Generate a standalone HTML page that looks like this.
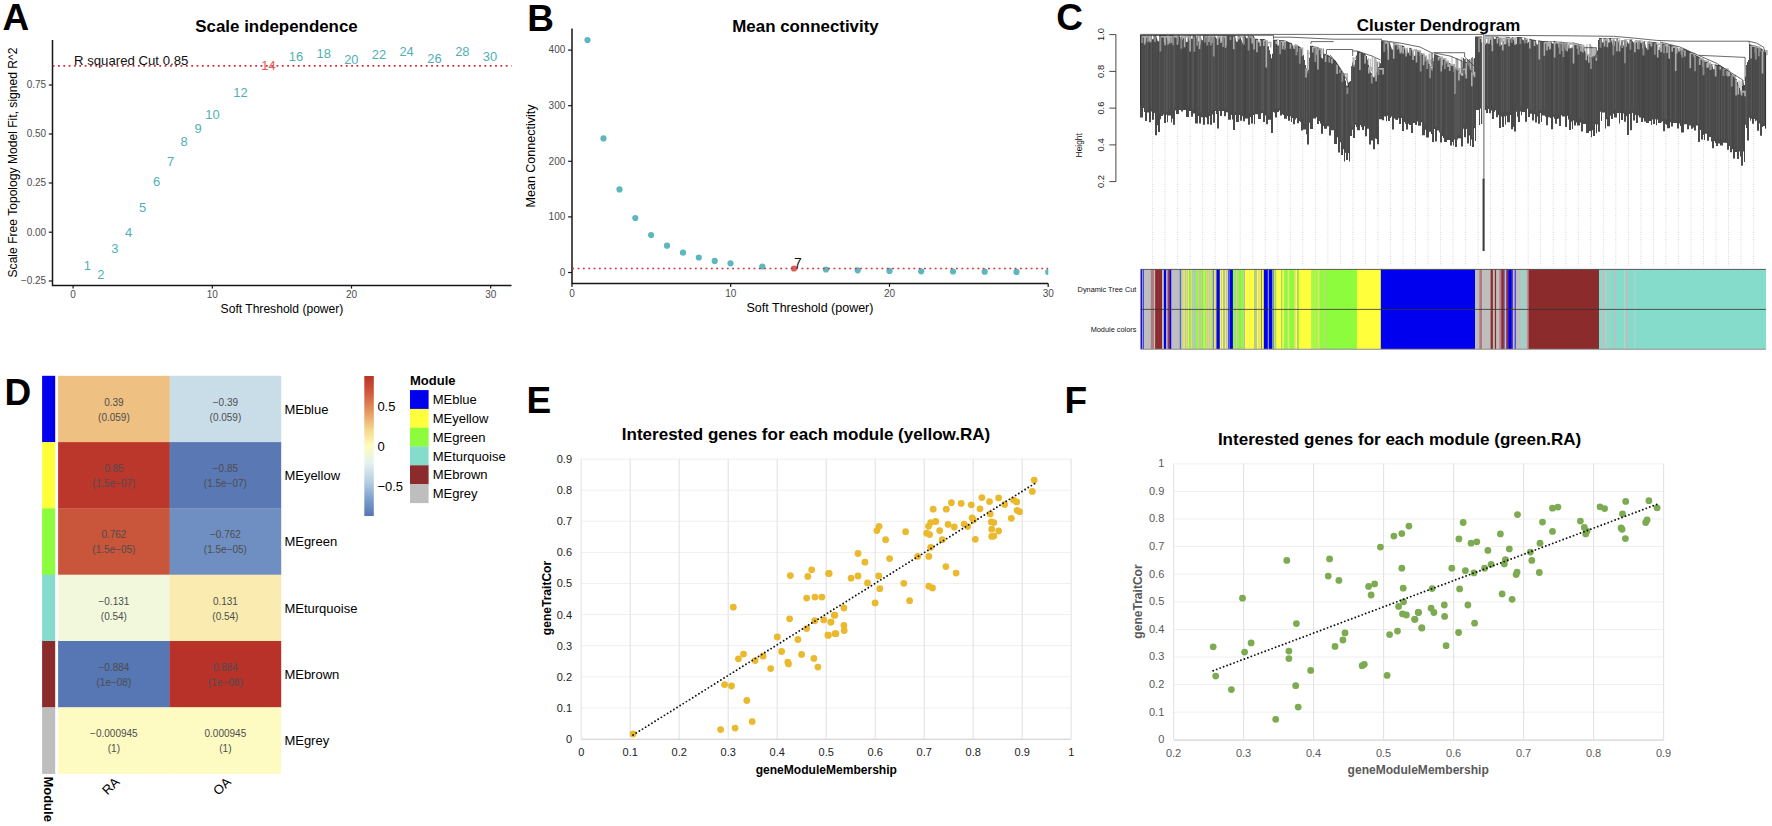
<!DOCTYPE html>
<html lang="en"><head><meta charset="utf-8"><title>WGCNA figure</title>
<style>
html,body{margin:0;padding:0;background:#fff;}
body{width:1772px;height:826px;overflow:hidden;}
svg{display:block;}
text{font-family:"Liberation Sans",sans-serif;}
.pl{font-size:37px;font-weight:bold;fill:#000;}
.ttl{font-size:16.9px;font-weight:bold;fill:#000;}
.ttl2{font-size:17.05px;font-weight:bold;fill:#000;}
.tk{font-size:10px;fill:#4d4d4d;}
.axl{font-size:12.1px;fill:#000;}
.ann{font-size:13.2px;fill:#111;}
.num{font-size:12.9px;}
.ctk{font-size:9.4px;fill:#222;}
.clab{font-size:7.35px;fill:#111;}
.chl{font-size:8.4px;fill:#111;}
.hm{font-size:10px;fill:#4d4d4d;}
.hml{font-size:13px;fill:#000;}
.hmb{font-size:13px;font-weight:bold;fill:#000;}
.etk{font-size:11px;fill:#222;}
.eax{font-size:12.05px;font-weight:bold;fill:#000;}
.ftk{font-size:11px;fill:#595959;}
.fax{font-size:12.05px;font-weight:bold;fill:#595959;}
</style></head>
<body>
<svg width="1772" height="826" viewBox="0 0 1772 826">
<rect width="1772" height="826" fill="#fff"/>
<g id="panelA">
<text x="2.6" y="29.6" class="pl">A</text>
<text x="276.5" y="31.5" class="ttl" text-anchor="middle">Scale independence</text>
<path d="M52.5 40V285.4H511.5" fill="none" stroke="#161616" stroke-width="1.5"/>
<path d="M48.8 85H52.5" stroke="#161616" stroke-width="1.2"/>
<text x="46.2" y="88.3" class="tk" text-anchor="end">0.75</text>
<path d="M48.8 134H52.5" stroke="#161616" stroke-width="1.2"/>
<text x="46.2" y="137.3" class="tk" text-anchor="end">0.50</text>
<path d="M48.8 183H52.5" stroke="#161616" stroke-width="1.2"/>
<text x="46.2" y="186.3" class="tk" text-anchor="end">0.25</text>
<path d="M48.8 232.2H52.5" stroke="#161616" stroke-width="1.2"/>
<text x="46.2" y="235.5" class="tk" text-anchor="end">0.00</text>
<path d="M48.8 281H52.5" stroke="#161616" stroke-width="1.2"/>
<text x="46.2" y="284.3" class="tk" text-anchor="end">−0.25</text>
<path d="M73.1 285.4V288.6" stroke="#161616" stroke-width="1.2"/>
<text x="73.1" y="298.4" class="tk" text-anchor="middle">0</text>
<path d="M212.3 285.4V288.6" stroke="#161616" stroke-width="1.2"/>
<text x="212.3" y="298.4" class="tk" text-anchor="middle">10</text>
<path d="M351.5 285.4V288.6" stroke="#161616" stroke-width="1.2"/>
<text x="351.5" y="298.4" class="tk" text-anchor="middle">20</text>
<path d="M490.7 285.4V288.6" stroke="#161616" stroke-width="1.2"/>
<text x="490.7" y="298.4" class="tk" text-anchor="middle">30</text>
<text x="282" y="312.5" class="axl" text-anchor="middle">Soft Threshold (power)</text>
<text transform="translate(16.5 162.5) rotate(-90)" class="axl" text-anchor="middle">Scale Free Topology Model Fit, signed R^2</text>
<path d="M52.7 65.8H511.5" stroke="#cc2f3a" stroke-width="1.7" stroke-dasharray="1.8 3.53"/>
<text x="74" y="65.3" class="ann">R squared Cut 0.85</text>
<text x="87.3" y="269.6" class="num" fill="#50afb6" text-anchor="middle">1</text>
<text x="100.9" y="278.9" class="num" fill="#50afb6" text-anchor="middle">2</text>
<text x="114.9" y="252.6" class="num" fill="#50afb6" text-anchor="middle">3</text>
<text x="128.5" y="236.6" class="num" fill="#50afb6" text-anchor="middle">4</text>
<text x="142.7" y="212.0" class="num" fill="#50afb6" text-anchor="middle">5</text>
<text x="156.5" y="185.6" class="num" fill="#50afb6" text-anchor="middle">6</text>
<text x="170.5" y="165.6" class="num" fill="#50afb6" text-anchor="middle">7</text>
<text x="184" y="145.6" class="num" fill="#50afb6" text-anchor="middle">8</text>
<text x="198" y="133.2" class="num" fill="#50afb6" text-anchor="middle">9</text>
<text x="212.5" y="119.2" class="num" fill="#50afb6" text-anchor="middle">10</text>
<text x="240.4" y="97.3" class="num" fill="#50afb6" text-anchor="middle">12</text>
<text x="268.4" y="70.1" class="num" fill="#dc5c58" text-anchor="middle">14</text>
<text x="296" y="60.6" class="num" fill="#50afb6" text-anchor="middle">16</text>
<text x="323.7" y="58.2" class="num" fill="#50afb6" text-anchor="middle">18</text>
<text x="351.3" y="63.6" class="num" fill="#50afb6" text-anchor="middle">20</text>
<text x="379" y="59.2" class="num" fill="#50afb6" text-anchor="middle">22</text>
<text x="406.6" y="56.2" class="num" fill="#50afb6" text-anchor="middle">24</text>
<text x="434.5" y="62.6" class="num" fill="#50afb6" text-anchor="middle">26</text>
<text x="462.3" y="55.6" class="num" fill="#50afb6" text-anchor="middle">28</text>
<text x="490" y="61.1" class="num" fill="#50afb6" text-anchor="middle">30</text>
</g>
<g id="panelB">
<text x="527.2" y="31.2" class="pl">B</text>
<text x="805.5" y="31.5" class="ttl" text-anchor="middle">Mean connectivity</text>
<path d="M572 28.4V283.4H1048.2" fill="none" stroke="#161616" stroke-width="1.5"/>
<path d="M568.1 272.5H572" stroke="#161616" stroke-width="1.2"/>
<text x="565.3" y="275.8" class="tk" text-anchor="end">0</text>
<path d="M568.1 216.9H572" stroke="#161616" stroke-width="1.2"/>
<text x="565.3" y="220.2" class="tk" text-anchor="end">100</text>
<path d="M568.1 161.3H572" stroke="#161616" stroke-width="1.2"/>
<text x="565.3" y="164.6" class="tk" text-anchor="end">200</text>
<path d="M568.1 105.7H572" stroke="#161616" stroke-width="1.2"/>
<text x="565.3" y="109.0" class="tk" text-anchor="end">300</text>
<path d="M568.1 50.1H572" stroke="#161616" stroke-width="1.2"/>
<text x="565.3" y="53.4" class="tk" text-anchor="end">400</text>
<path d="M572.0 283.4V286.9" stroke="#161616" stroke-width="1.2"/>
<text x="572.0" y="296.8" class="tk" text-anchor="middle">0</text>
<path d="M730.7 283.4V286.9" stroke="#161616" stroke-width="1.2"/>
<text x="730.7" y="296.8" class="tk" text-anchor="middle">10</text>
<path d="M889.5 283.4V286.9" stroke="#161616" stroke-width="1.2"/>
<text x="889.5" y="296.8" class="tk" text-anchor="middle">20</text>
<path d="M1048.2 283.4V286.9" stroke="#161616" stroke-width="1.2"/>
<text x="1048.2" y="296.8" class="tk" text-anchor="middle">30</text>
<text x="810" y="312" class="axl" style="font-size:12.5px" text-anchor="middle">Soft Threshold (power)</text>
<text transform="translate(535.3 156) rotate(-90)" class="axl" style="font-size:12.5px" text-anchor="middle">Mean Connectivity</text>
<clipPath id="cb"><rect x="572" y="20" width="476.3" height="264"/></clipPath>
<g clip-path="url(#cb)">
<circle cx="587.5" cy="40" r="3.1" fill="#5cb8bf"/>
<circle cx="603.5" cy="138.4" r="3.1" fill="#5cb8bf"/>
<circle cx="619.5" cy="189.4" r="3.1" fill="#5cb8bf"/>
<circle cx="635.3" cy="218" r="3.1" fill="#5cb8bf"/>
<circle cx="651.1" cy="235" r="3.1" fill="#5cb8bf"/>
<circle cx="667" cy="245.7" r="3.1" fill="#5cb8bf"/>
<circle cx="683" cy="252.7" r="3.1" fill="#5cb8bf"/>
<circle cx="698.8" cy="257.5" r="3.1" fill="#5cb8bf"/>
<circle cx="714.7" cy="260.9" r="3.1" fill="#5cb8bf"/>
<circle cx="730.5" cy="263.3" r="3.1" fill="#5cb8bf"/>
<circle cx="762.3" cy="266.5" r="3.1" fill="#5cb8bf"/>
<circle cx="794" cy="268.5" r="3.1" fill="#dc5c58"/>
<circle cx="826" cy="269.5" r="3.1" fill="#5cb8bf"/>
<circle cx="857.7" cy="270.3" r="3.1" fill="#5cb8bf"/>
<circle cx="889.5" cy="270.9" r="3.1" fill="#5cb8bf"/>
<circle cx="921.2" cy="271.3" r="3.1" fill="#5cb8bf"/>
<circle cx="953" cy="271.5" r="3.1" fill="#5cb8bf"/>
<circle cx="984.7" cy="271.7" r="3.1" fill="#5cb8bf"/>
<circle cx="1016.5" cy="271.9" r="3.1" fill="#5cb8bf"/>
<circle cx="1048.2" cy="272" r="3.1" fill="#5cb8bf"/>
<path d="M572.3 268.5H1048.2" stroke="#cc2f3a" stroke-width="1.7" stroke-dasharray="1.8 3.53"/>
</g>
<text x="794" y="268.3" class="ann" style="font-size:14px">7</text>
</g>
<g id="panelC">
<text x="1056.3" y="29.7" class="pl">C</text>
<path d="M1152.6 100V266M1165.1 100V266M1177.6 100V266M1190.2 100V266M1202.7 100V266M1215.2 100V266M1227.7 100V266M1240.2 100V266M1252.8 100V266M1265.3 100V266M1277.8 100V266M1290.3 100V266M1302.8 100V266M1315.4 100V266M1327.9 100V266M1340.4 100V266M1352.9 100V266M1365.4 100V266M1378.0 100V266M1390.5 100V266M1403.0 100V266M1415.5 100V266M1428.0 100V266M1440.6 100V266M1453.1 100V266M1465.6 100V266M1478.1 100V266M1490.6 100V266M1503.2 100V266M1515.7 100V266M1528.2 100V266M1540.7 100V266M1553.2 100V266M1565.8 100V266M1578.3 100V266M1590.8 100V266M1603.3 100V266M1615.8 100V266M1628.4 100V266M1640.9 100V266M1653.4 100V266M1665.9 100V266M1678.4 100V266M1691.0 100V266M1703.5 100V266M1716.0 100V266M1728.5 100V266M1741.0 100V266M1753.6 100V266" stroke="#d2d2d2" stroke-width="0.9" stroke-dasharray="1 1.4" fill="none"/>
<path d="M1109.3 34.6H1115.9V181.6H1109.3M1109.3 71.4H1115.9M1109.3 108.1H1115.9M1109.3 144.9H1115.9" fill="none" stroke="#333" stroke-width="0.9"/>
<text transform="translate(1103.6 34.6) rotate(-90)" class="ctk" text-anchor="middle">1.0</text>
<text transform="translate(1103.6 71.4) rotate(-90)" class="ctk" text-anchor="middle">0.8</text>
<text transform="translate(1103.6 108.1) rotate(-90)" class="ctk" text-anchor="middle">0.6</text>
<text transform="translate(1103.6 144.9) rotate(-90)" class="ctk" text-anchor="middle">0.4</text>
<text transform="translate(1103.6 181.6) rotate(-90)" class="ctk" text-anchor="middle">0.2</text>
<text transform="translate(1081.8 145.3) rotate(-90)" class="chl" text-anchor="middle">Height</text>
<path d="M1140.0 35.0H1141.0L1141.0 35.0H1142.0L1142.0 35.1H1143.0L1143.0 35.1H1144.0L1144.0 35.1H1145.0L1145.0 35.1H1146.0L1146.0 35.1H1147.0L1147.0 35.1H1148.0L1148.0 35.1H1149.0L1149.0 35.1H1150.0L1150.0 35.1H1151.0L1151.0 35.1H1152.0L1152.0 35.1H1153.0L1153.0 35.1H1154.0L1154.0 35.1H1155.0L1155.0 35.1H1156.0L1156.0 35.1H1157.0L1157.0 35.1H1158.0L1158.0 35.1H1159.0L1159.0 35.1H1160.0L1160.0 35.1H1161.0L1161.0 35.1H1162.0L1162.0 35.1H1163.0L1163.0 35.1H1164.0L1164.0 35.1H1165.0L1165.0 35.1H1166.0L1166.0 35.1H1167.0L1167.0 35.1H1168.0L1168.0 35.1H1169.0L1169.0 35.1H1170.0L1170.0 35.1H1171.0L1171.0 35.1H1172.0L1172.0 35.1H1173.0L1173.0 35.2H1174.0L1174.0 35.2H1175.0L1175.0 35.2H1176.0L1176.0 35.2H1177.0L1177.0 35.2H1178.0L1178.0 35.2H1179.0L1179.0 35.2H1180.0L1180.0 35.2H1181.0L1181.0 35.2H1182.0L1182.0 35.2H1183.0L1183.0 35.2H1184.0L1184.0 35.2H1185.0L1185.0 35.2H1186.0L1186.0 35.2H1187.0L1187.0 35.2H1188.0L1188.0 35.2H1189.0L1189.0 35.2H1190.0L1190.0 35.2H1191.0L1191.0 35.2H1192.0L1192.0 35.2H1193.0L1193.0 35.2H1194.0L1194.0 35.2H1195.0L1195.0 35.2H1196.0L1196.0 35.2H1197.0L1197.0 35.2H1198.0L1198.0 35.2H1199.0L1199.0 35.2H1200.0L1200.0 35.2H1201.0L1201.0 35.2H1202.0L1202.0 35.2H1203.0L1203.0 35.2H1204.0L1204.0 35.2H1205.0L1205.0 35.3H1206.0L1206.0 35.3H1207.0L1207.0 35.3H1208.0L1208.0 35.3H1209.0L1209.0 35.3H1210.0L1210.0 35.3H1211.0L1211.0 35.3H1212.0L1212.0 35.3H1213.0L1213.0 35.3H1214.0L1214.0 35.3H1215.0L1215.0 35.3H1216.0L1216.0 35.3H1217.0L1217.0 35.3H1218.0L1218.0 35.3H1219.0L1219.0 35.3H1220.0L1220.0 35.3H1221.0L1221.0 35.3H1222.0L1222.0 35.3H1223.0L1223.0 35.3H1224.0L1224.0 35.3H1225.0L1225.0 35.3H1226.0L1226.0 35.3H1227.0L1227.0 35.3H1228.0L1228.0 35.3H1229.0L1229.0 35.3H1230.0L1230.0 35.3H1231.0L1231.0 35.3H1232.0L1232.0 35.3H1233.0L1233.0 35.3H1234.0L1234.0 35.3H1235.0L1235.0 35.3H1236.0L1236.0 35.4H1237.0L1237.0 35.4H1238.0L1238.0 35.4H1239.0L1239.0 35.4H1240.0L1240.0 35.4H1241.0L1241.0 35.4H1242.0L1242.0 35.4H1243.0L1243.0 35.4H1244.0L1244.0 35.4H1245.0L1245.0 35.4H1246.0L1246.0 35.4H1247.0L1247.0 35.4H1248.0L1248.0 35.4H1249.0L1249.0 35.4H1250.0L1250.0 35.4H1251.0L1251.0 35.4H1252.0L1252.0 35.4H1253.0L1253.0 35.4H1254.0L1254.0 37.6H1255.0L1255.0 38.8H1256.0L1256.0 38.8H1257.0L1257.0 38.9H1258.0L1258.0 38.9H1259.0L1259.0 39.0H1260.0L1260.0 39.0H1261.0L1261.0 39.0H1262.0L1262.0 39.1H1263.0L1263.0 39.1H1264.0L1264.0 39.2H1265.0L1265.0 39.7H1266.0L1266.0 41.2H1267.0L1267.0 42.7H1268.0L1268.0 46.2H1269.0L1269.0 50.2H1270.0L1270.0 54.2H1271.0L1271.0 58.3H1272.0L1272.0 53.7H1273.0L1273.0 39.6H1274.0L1274.0 39.7H1275.0L1275.0 39.7H1276.0L1276.0 39.7H1277.0L1277.0 39.8H1278.0L1278.0 39.8H1279.0L1279.0 39.9H1280.0L1280.0 39.9H1281.0L1281.0 39.9H1282.0L1282.0 40.0H1283.0L1283.0 40.0H1284.0L1284.0 40.0H1285.0L1285.0 40.5H1286.0L1286.0 41.0H1287.0L1287.0 41.5H1288.0L1288.0 42.0H1289.0L1289.0 42.4H1290.0L1290.0 42.7H1291.0L1291.0 43.1H1292.0L1292.0 43.4H1293.0L1293.0 43.8H1294.0L1294.0 44.1H1295.0L1295.0 44.5H1296.0L1296.0 44.8H1297.0L1297.0 45.2H1298.0L1298.0 45.9H1299.0L1299.0 46.6H1300.0L1300.0 47.3H1301.0L1301.0 48.0H1302.0L1302.0 51.2H1303.0L1303.0 55.0H1304.0L1304.0 60.0H1305.0L1305.0 65.0H1306.0L1306.0 68.5H1307.0L1307.0 71.2H1308.0L1308.0 69.7H1309.0L1309.0 57.7H1310.0L1310.0 45.7H1311.0L1311.0 45.7H1312.0L1312.0 45.8H1313.0L1313.0 45.9H1314.0L1314.0 46.0H1315.0L1315.0 46.4H1316.0L1316.0 46.8H1317.0L1317.0 47.2H1318.0L1318.0 47.6H1319.0L1319.0 48.0H1320.0L1320.0 48.4H1321.0L1321.0 57.6H1322.0L1322.0 58.5H1323.0L1323.0 53.3H1324.0L1324.0 53.7H1325.0L1325.0 54.1H1326.0L1326.0 54.5H1327.0L1327.0 54.8H1328.0L1328.0 55.2H1329.0L1329.0 55.9H1330.0L1330.0 56.8H1331.0L1331.0 57.6H1332.0L1332.0 58.4H1333.0L1333.0 59.2H1334.0L1334.0 60.0H1335.0L1335.0 60.8H1336.0L1336.0 62.5H1337.0L1337.0 64.1H1338.0L1338.0 65.8H1339.0L1339.0 67.6H1340.0L1340.0 69.3H1341.0L1341.0 71.1H1342.0L1342.0 72.8H1343.0L1343.0 74.6H1344.0L1344.0 76.3H1345.0L1345.0 80.4H1346.0L1346.0 85.6H1347.0L1347.0 85.7H1348.0L1348.0 82.6H1349.0L1349.0 81.8H1350.0L1350.0 80.9H1351.0L1351.0 66.3H1352.0L1352.0 62.3H1353.0L1353.0 64.5H1354.0L1354.0 64.4H1355.0L1355.0 60.0H1356.0L1356.0 55.6H1357.0L1357.0 51.2H1358.0L1358.0 51.4H1359.0L1359.0 51.8H1360.0L1360.0 52.2H1361.0L1361.0 52.6H1362.0L1362.0 53.0H1363.0L1363.0 53.4H1364.0L1364.0 53.8H1365.0L1365.0 54.5H1366.0L1366.0 56.0H1367.0L1367.0 59.7H1368.0L1368.0 64.7H1369.0L1369.0 69.5H1370.0L1370.0 71.4H1371.0L1371.0 73.3H1372.0L1372.0 75.2H1373.0L1373.0 77.1H1374.0L1374.0 75.7H1375.0L1375.0 73.8H1376.0L1376.0 72.0H1377.0L1377.0 69.7H1378.0L1378.0 67.1H1379.0L1379.0 64.4H1380.0L1380.0 63.2H1381.0L1381.0 40.9H1382.0L1382.0 41.1H1383.0L1383.0 41.2H1384.0L1384.0 41.4H1385.0L1385.0 41.5H1386.0L1386.0 41.7H1387.0L1387.0 41.8H1388.0L1388.0 42.0H1389.0L1389.0 42.2H1390.0L1390.0 42.3H1391.0L1391.0 42.5H1392.0L1392.0 42.6H1393.0L1393.0 42.8H1394.0L1394.0 43.0H1395.0L1395.0 43.2H1396.0L1396.0 43.6H1397.0L1397.0 43.9H1398.0L1398.0 44.2H1399.0L1399.0 44.6H1400.0L1400.0 44.9H1401.0L1401.0 45.2H1402.0L1402.0 45.6H1403.0L1403.0 45.9H1404.0L1404.0 46.2H1405.0L1405.0 46.5H1406.0L1406.0 46.9H1407.0L1407.0 47.2H1408.0L1408.0 47.5H1409.0L1409.0 47.7H1410.0L1410.0 48.0H1411.0L1411.0 48.2H1412.0L1412.0 48.5H1413.0L1413.0 48.7H1414.0L1414.0 48.9H1415.0L1415.0 49.2H1416.0L1416.0 49.4H1417.0L1417.0 49.9H1418.0L1418.0 50.7H1419.0L1419.0 51.5H1420.0L1420.0 52.3H1421.0L1421.0 53.1H1422.0L1422.0 53.9H1423.0L1423.0 54.7H1424.0L1424.0 55.5H1425.0L1425.0 56.3H1426.0L1426.0 57.4H1427.0L1427.0 59.6H1428.0L1428.0 61.7H1429.0L1429.0 63.8H1430.0L1430.0 65.9H1431.0L1431.0 68.0H1432.0L1432.0 67.6H1433.0L1433.0 60.9H1434.0L1434.0 54.2H1435.0L1435.0 54.2H1436.0L1436.0 54.7H1437.0L1437.0 55.2H1438.0L1438.0 55.7H1439.0L1439.0 56.2H1440.0L1440.0 56.7H1441.0L1441.0 57.4H1442.0L1442.0 58.1H1443.0L1443.0 58.8H1444.0L1444.0 59.5H1445.0L1445.0 60.2H1446.0L1446.0 60.9H1447.0L1447.0 61.7H1448.0L1448.0 62.4H1449.0L1449.0 63.1H1450.0L1450.0 63.8H1451.0L1451.0 64.5H1452.0L1452.0 65.2H1453.0L1453.0 66.0H1454.0L1454.0 66.7H1455.0L1455.0 67.5H1456.0L1456.0 68.3H1457.0L1457.0 69.1H1458.0L1458.0 69.8H1459.0L1459.0 70.6H1460.0L1460.0 73.3H1461.0L1461.0 74.0H1462.0L1462.0 67.5H1463.0L1463.0 57.9H1464.0L1464.0 59.2H1465.0L1465.0 60.6H1466.0L1466.0 61.9H1467.0L1467.0 63.2H1468.0L1468.0 64.7H1469.0L1469.0 66.6H1470.0L1470.0 68.5H1471.0L1471.0 70.3H1472.0L1472.0 72.2H1473.0L1473.0 74.1H1474.0L1474.0 58.1H1475.0L1475.0 36.5H1476.0L1476.0 36.5H1477.0L1477.0 36.5H1478.0L1478.0 36.5H1479.0L1479.0 36.5H1480.0L1480.0 36.5H1481.0L1481.0 36.5H1482.0L1482.0 36.5H1483.0L1483.0 36.5H1484.0L1484.0 36.5H1485.0L1485.0 36.4H1486.0L1486.0 36.4H1487.0L1487.0 36.4H1488.0L1488.0 36.5H1489.0L1489.0 36.5H1490.0L1490.0 36.5H1491.0L1491.0 36.5H1492.0L1492.0 36.5H1493.0L1493.0 36.6H1494.0L1494.0 36.6H1495.0L1495.0 36.6H1496.0L1496.0 36.6H1497.0L1497.0 36.6H1498.0L1498.0 36.7H1499.0L1499.0 36.7H1500.0L1500.0 36.7H1501.0L1501.0 36.7H1502.0L1502.0 36.7H1503.0L1503.0 36.7H1504.0L1504.0 36.8H1505.0L1505.0 36.8H1506.0L1506.0 36.8H1507.0L1507.0 36.8H1508.0L1508.0 36.8H1509.0L1509.0 36.9H1510.0L1510.0 36.9H1511.0L1511.0 36.9H1512.0L1512.0 36.9H1513.0L1513.0 36.9H1514.0L1514.0 37.0H1515.0L1515.0 37.0H1516.0L1516.0 37.0H1517.0L1517.0 37.0H1518.0L1518.0 37.0H1519.0L1519.0 37.0H1520.0L1520.0 37.1H1521.0L1521.0 37.1H1522.0L1522.0 37.2H1523.0L1523.0 37.4H1524.0L1524.0 37.6H1525.0L1525.0 37.9H1526.0L1526.0 38.1H1527.0L1527.0 38.3H1528.0L1528.0 38.6H1529.0L1529.0 38.8H1530.0L1530.0 39.1H1531.0L1531.0 39.3H1532.0L1532.0 39.5H1533.0L1533.0 39.7H1534.0L1534.0 39.8H1535.0L1535.0 40.0H1536.0L1536.0 40.1H1537.0L1537.0 40.2H1538.0L1538.0 40.4H1539.0L1539.0 40.5H1540.0L1540.0 40.7H1541.0L1541.0 40.8H1542.0L1542.0 41.0H1543.0L1543.0 41.0H1544.0L1544.0 41.0H1545.0L1545.0 41.0H1546.0L1546.0 41.0H1547.0L1547.0 41.0H1548.0L1548.0 41.0H1549.0L1549.0 41.0H1550.0L1550.0 41.0H1551.0L1551.0 41.0H1552.0L1552.0 41.0H1553.0L1553.0 41.0H1554.0L1554.0 41.1H1555.0L1555.0 41.2H1556.0L1556.0 41.3H1557.0L1557.0 41.4H1558.0L1558.0 41.5H1559.0L1559.0 41.6H1560.0L1560.0 41.7H1561.0L1561.0 41.8H1562.0L1562.0 41.9H1563.0L1563.0 42.0H1564.0L1564.0 42.1H1565.0L1565.0 42.1H1566.0L1566.0 42.2H1567.0L1567.0 42.2H1568.0L1568.0 42.3H1569.0L1569.0 42.3H1570.0L1570.0 42.4H1571.0L1571.0 42.4H1572.0L1572.0 42.5H1573.0L1573.0 42.5H1574.0L1574.0 42.8H1575.0L1575.0 43.0H1576.0L1576.0 43.3H1577.0L1577.0 43.5H1578.0L1578.0 43.8H1579.0L1579.0 44.0H1580.0L1580.0 44.3H1581.0L1581.0 44.5H1582.0L1582.0 46.3H1583.0L1583.0 48.4H1584.0L1584.0 50.5H1585.0L1585.0 52.2H1586.0L1586.0 53.4H1587.0L1587.0 54.6H1588.0L1588.0 55.8H1589.0L1589.0 57.0H1590.0L1590.0 57.4H1591.0L1591.0 57.0H1592.0L1592.0 56.6H1593.0L1593.0 56.2H1594.0L1594.0 55.8H1595.0L1595.0 54.8H1596.0L1596.0 53.1H1597.0L1597.0 50.5H1598.0L1598.0 40.0H1599.0L1599.0 37.9H1600.0L1600.0 37.9H1601.0L1601.0 37.9H1602.0L1602.0 38.0H1603.0L1603.0 38.0H1604.0L1604.0 38.0H1605.0L1605.0 38.0H1606.0L1606.0 38.0H1607.0L1607.0 38.0H1608.0L1608.0 38.0H1609.0L1609.0 38.1H1610.0L1610.0 38.1H1611.0L1611.0 38.1H1612.0L1612.0 38.1H1613.0L1613.0 38.1H1614.0L1614.0 38.1H1615.0L1615.0 38.1H1616.0L1616.0 38.2H1617.0L1617.0 38.2H1618.0L1618.0 38.2H1619.0L1619.0 38.2H1620.0L1620.0 39.1H1621.0L1621.0 39.1H1622.0L1622.0 39.1H1623.0L1623.0 39.2H1624.0L1624.0 39.2H1625.0L1625.0 39.3H1626.0L1626.0 39.3H1627.0L1627.0 39.3H1628.0L1628.0 39.4H1629.0L1629.0 39.4H1630.0L1630.0 39.5H1631.0L1631.0 39.6H1632.0L1632.0 39.8H1633.0L1633.0 39.9H1634.0L1634.0 40.0H1635.0L1635.0 40.1H1636.0L1636.0 40.2H1637.0L1637.0 40.3H1638.0L1638.0 40.4H1639.0L1639.0 40.5H1640.0L1640.0 40.6H1641.0L1641.0 40.7H1642.0L1642.0 40.8H1643.0L1643.0 40.9H1644.0L1644.0 41.0H1645.0L1645.0 41.1H1646.0L1646.0 41.2H1647.0L1647.0 41.4H1648.0L1648.0 41.5H1649.0L1649.0 41.6H1650.0L1650.0 41.7H1651.0L1651.0 41.8H1652.0L1652.0 41.9H1653.0L1653.0 42.0H1654.0L1654.0 42.1H1655.0L1655.0 42.2H1656.0L1656.0 42.3H1657.0L1657.0 42.5H1658.0L1658.0 42.7H1659.0L1659.0 42.9H1660.0L1660.0 43.1H1661.0L1661.0 43.3H1662.0L1662.0 43.5H1663.0L1663.0 43.7H1664.0L1664.0 43.9H1665.0L1665.0 44.1H1666.0L1666.0 44.3H1667.0L1667.0 44.5H1668.0L1668.0 44.7H1669.0L1669.0 44.9H1670.0L1670.0 45.1H1671.0L1671.0 45.3H1672.0L1672.0 45.5H1673.0L1673.0 45.7H1674.0L1674.0 45.9H1675.0L1675.0 46.2H1676.0L1676.0 46.5H1677.0L1677.0 46.8H1678.0L1678.0 47.1H1679.0L1679.0 47.4H1680.0L1680.0 47.7H1681.0L1681.0 48.0H1682.0L1682.0 48.3H1683.0L1683.0 48.6H1684.0L1684.0 49.1H1685.0L1685.0 49.6H1686.0L1686.0 50.1H1687.0L1687.0 50.6H1688.0L1688.0 51.1H1689.0L1689.0 51.6H1690.0L1690.0 52.1H1691.0L1691.0 52.6H1692.0L1692.0 53.1H1693.0L1693.0 53.6H1694.0L1694.0 54.2H1695.0L1695.0 54.8H1696.0L1696.0 55.4H1697.0L1697.0 56.0H1698.0L1698.0 56.6H1699.0L1699.0 57.2H1700.0L1700.0 57.8H1701.0L1701.0 58.4H1702.0L1702.0 59.0H1703.0L1703.0 59.6H1704.0L1704.0 60.2H1705.0L1705.0 60.8H1706.0L1706.0 61.4H1707.0L1707.0 62.0H1708.0L1708.0 62.6H1709.0L1709.0 63.2H1710.0L1710.0 63.8H1711.0L1711.0 64.2H1712.0L1712.0 64.3H1713.0L1713.0 64.4H1714.0L1714.0 64.5H1715.0L1715.0 64.6H1716.0L1716.0 64.8H1717.0L1717.0 64.9H1718.0L1718.0 65.0H1719.0L1719.0 65.1H1720.0L1720.0 65.5H1721.0L1721.0 66.2H1722.0L1722.0 66.9H1723.0L1723.0 67.5H1724.0L1724.0 68.2H1725.0L1725.0 68.9H1726.0L1726.0 69.6H1727.0L1727.0 70.3H1728.0L1728.0 70.9H1729.0L1729.0 71.7H1730.0L1730.0 72.7H1731.0L1731.0 73.7H1732.0L1732.0 74.7H1733.0L1733.0 75.7H1734.0L1734.0 76.7H1735.0L1735.0 77.7H1736.0L1736.0 78.9H1737.0L1737.0 81.9H1738.0L1738.0 84.8H1739.0L1739.0 87.7H1740.0L1740.0 90.6H1741.0L1741.0 90.7H1742.0L1742.0 86.0H1743.0L1743.0 82.7H1744.0L1744.0 85.0H1745.0L1745.0 76.7H1746.0L1746.0 64.9H1747.0L1747.0 61.9H1748.0L1748.0 60.1H1749.0L1749.0 44.1H1750.0L1750.0 44.4H1751.0L1751.0 44.7H1752.0L1752.0 44.9H1753.0L1753.0 45.2H1754.0L1754.0 45.4H1755.0L1755.0 45.7H1756.0L1756.0 46.0H1757.0L1757.0 46.5H1758.0L1758.0 47.0H1759.0L1759.0 47.5H1760.0L1760.0 48.0H1761.0L1761.0 48.5H1762.0L1762.0 49.3H1763.0L1763.0 50.3H1764.0L1764.0 51.3H1765.0L1765.0 52.3H1766.0L1766.0 128.8H1765.0L1765.0 126.0H1764.0L1764.0 126.0H1763.0L1763.0 127.1H1762.0L1762.0 135.8H1761.0L1761.0 135.8H1760.0L1760.0 123.4H1759.0L1759.0 130.7H1758.0L1758.0 130.7H1757.0L1757.0 120.4H1756.0L1756.0 121.3H1755.0L1755.0 119.1H1754.0L1754.0 123.7H1753.0L1753.0 123.7H1752.0L1752.0 118.7H1751.0L1751.0 120.7H1750.0L1750.0 117.8H1749.0L1749.0 140.5H1748.0L1748.0 140.5H1747.0L1747.0 128.0H1746.0L1746.0 124.7H1745.0L1745.0 161.9H1744.0L1744.0 151.5H1743.0L1743.0 165.7H1742.0L1742.0 165.7H1741.0L1741.0 156.4H1740.0L1740.0 151.5H1739.0L1739.0 159.0H1738.0L1738.0 159.0H1737.0L1737.0 152.1H1736.0L1736.0 152.1H1735.0L1735.0 158.6H1734.0L1734.0 158.6H1733.0L1733.0 149.3H1732.0L1732.0 152.3H1731.0L1731.0 152.3H1730.0L1730.0 145.9H1729.0L1729.0 149.7H1728.0L1728.0 149.7H1727.0L1727.0 143.0H1726.0L1726.0 142.7H1725.0L1725.0 142.7H1724.0L1724.0 142.7H1723.0L1723.0 145.4H1722.0L1722.0 145.4H1721.0L1721.0 145.4H1720.0L1720.0 143.6H1719.0L1719.0 143.6H1718.0L1718.0 146.0H1717.0L1717.0 146.0H1716.0L1716.0 142.9H1715.0L1715.0 141.0H1714.0L1714.0 148.2H1713.0L1713.0 148.2H1712.0L1712.0 141.4H1711.0L1711.0 137.0H1710.0L1710.0 137.0H1709.0L1709.0 140.8H1708.0L1708.0 140.8H1707.0L1707.0 133.7H1706.0L1706.0 133.7H1705.0L1705.0 140.0H1704.0L1704.0 134.7H1703.0L1703.0 139.4H1702.0L1702.0 139.4H1701.0L1701.0 130.0H1700.0L1700.0 142.0H1699.0L1699.0 142.0H1698.0L1698.0 125.6H1697.0L1697.0 125.6H1696.0L1696.0 130.4H1695.0L1695.0 130.4H1694.0L1694.0 127.5H1693.0L1693.0 128.8H1692.0L1692.0 128.8H1691.0L1691.0 125.5H1690.0L1690.0 125.5H1689.0L1689.0 129.2H1688.0L1688.0 129.2H1687.0L1687.0 124.2H1686.0L1686.0 124.2H1685.0L1685.0 124.2H1684.0L1684.0 132.5H1683.0L1683.0 132.5H1682.0L1682.0 132.5H1681.0L1681.0 126.1H1680.0L1680.0 123.5H1679.0L1679.0 128.5H1678.0L1678.0 128.5H1677.0L1677.0 123.0H1676.0L1676.0 123.0H1675.0L1675.0 123.0H1674.0L1674.0 123.1H1673.0L1673.0 126.5H1672.0L1672.0 126.5H1671.0L1671.0 122.3H1670.0L1670.0 128.2H1669.0L1669.0 128.2H1668.0L1668.0 128.2H1667.0L1667.0 124.7H1666.0L1666.0 124.0H1665.0L1665.0 131.3H1664.0L1664.0 131.3H1663.0L1663.0 121.3H1662.0L1662.0 122.3H1661.0L1661.0 123.0H1660.0L1660.0 123.0H1659.0L1659.0 123.0H1658.0L1658.0 119.5H1657.0L1657.0 125.2H1656.0L1656.0 119.2H1655.0L1655.0 123.9H1654.0L1654.0 123.9H1653.0L1653.0 119.4H1652.0L1652.0 124.9H1651.0L1651.0 121.1H1650.0L1650.0 121.1H1649.0L1649.0 122.9H1648.0L1648.0 122.9H1647.0L1647.0 122.9H1646.0L1646.0 121.6H1645.0L1645.0 121.6H1644.0L1644.0 118.3H1643.0L1643.0 121.9H1642.0L1642.0 121.9H1641.0L1641.0 117.4H1640.0L1640.0 117.4H1639.0L1639.0 115.6H1638.0L1638.0 123.1H1637.0L1637.0 123.1H1636.0L1636.0 115.1H1635.0L1635.0 120.6H1634.0L1634.0 120.6H1633.0L1633.0 112.9H1632.0L1632.0 130.2H1631.0L1631.0 130.2H1630.0L1630.0 114.1H1629.0L1629.0 135.1H1628.0L1628.0 135.1H1627.0L1627.0 116.2H1626.0L1626.0 121.7H1625.0L1625.0 121.7H1624.0L1624.0 113.5H1623.0L1623.0 120.0H1622.0L1622.0 120.0H1621.0L1621.0 112.9H1620.0L1620.0 123.4H1619.0L1619.0 113.1H1618.0L1618.0 113.1H1617.0L1617.0 117.5H1616.0L1616.0 117.5H1615.0L1615.0 117.5H1614.0L1614.0 113.8H1613.0L1613.0 119.1H1612.0L1612.0 119.1H1611.0L1611.0 115.7H1610.0L1610.0 126.3H1609.0L1609.0 126.3H1608.0L1608.0 126.3H1607.0L1607.0 119.3H1606.0L1606.0 128.4H1605.0L1605.0 112.4H1604.0L1604.0 112.4H1603.0L1603.0 112.4H1602.0L1602.0 121.1H1601.0L1601.0 111.7H1600.0L1600.0 131.8H1599.0L1599.0 131.8H1598.0L1598.0 124.6H1597.0L1597.0 133.2H1596.0L1596.0 124.3H1595.0L1595.0 136.1H1594.0L1594.0 136.1H1593.0L1593.0 130.3H1592.0L1592.0 137.2H1591.0L1591.0 130.9H1590.0L1590.0 130.9H1589.0L1589.0 133.1H1588.0L1588.0 133.1H1587.0L1587.0 133.1H1586.0L1586.0 124.1H1585.0L1585.0 124.1H1584.0L1584.0 124.1H1583.0L1583.0 131.4H1582.0L1582.0 131.4H1581.0L1581.0 122.6H1580.0L1580.0 125.6H1579.0L1579.0 125.6H1578.0L1578.0 125.6H1577.0L1577.0 122.4H1576.0L1576.0 125.6H1575.0L1575.0 125.6H1574.0L1574.0 120.6H1573.0L1573.0 129.0H1572.0L1572.0 121.8H1571.0L1571.0 130.0H1570.0L1570.0 130.0H1569.0L1569.0 119.4H1568.0L1568.0 115.8H1567.0L1567.0 127.0H1566.0L1566.0 127.0H1565.0L1565.0 116.4H1564.0L1564.0 116.4H1563.0L1563.0 116.4H1562.0L1562.0 115.3H1561.0L1561.0 125.9H1560.0L1560.0 125.9H1559.0L1559.0 118.6H1558.0L1558.0 119.1H1557.0L1557.0 123.7H1556.0L1556.0 123.7H1555.0L1555.0 118.7H1554.0L1554.0 116.7H1553.0L1553.0 129.2H1552.0L1552.0 129.2H1551.0L1551.0 118.1H1550.0L1550.0 117.3H1549.0L1549.0 117.3H1548.0L1548.0 125.2H1547.0L1547.0 125.2H1546.0L1546.0 116.7H1545.0L1545.0 115.4H1544.0L1544.0 115.4H1543.0L1543.0 115.4H1542.0L1542.0 121.9H1541.0L1541.0 113.1H1540.0L1540.0 123.7H1539.0L1539.0 123.7H1538.0L1538.0 116.5H1537.0L1537.0 122.6H1536.0L1536.0 122.6H1535.0L1535.0 114.2H1534.0L1534.0 120.4H1533.0L1533.0 120.4H1532.0L1532.0 113.7H1531.0L1531.0 113.7H1530.0L1530.0 116.9H1529.0L1529.0 116.9H1528.0L1528.0 108.8H1527.0L1527.0 121.7H1526.0L1526.0 121.7H1525.0L1525.0 112.0H1524.0L1524.0 112.0H1523.0L1523.0 112.0H1522.0L1522.0 115.3H1521.0L1521.0 111.5H1520.0L1520.0 121.9H1519.0L1519.0 121.9H1518.0L1518.0 116.8H1517.0L1517.0 111.8H1516.0L1516.0 131.6H1515.0L1515.0 131.6H1514.0L1514.0 126.8H1513.0L1513.0 129.2H1512.0L1512.0 129.2H1511.0L1511.0 115.0H1510.0L1510.0 122.3H1509.0L1509.0 122.3H1508.0L1508.0 122.3H1507.0L1507.0 115.7H1506.0L1506.0 124.8H1505.0L1505.0 116.4H1504.0L1504.0 126.9H1503.0L1503.0 126.9H1502.0L1502.0 116.5H1501.0L1501.0 127.9H1500.0L1500.0 127.9H1499.0L1499.0 114.9H1498.0L1498.0 117.3H1497.0L1497.0 117.3H1496.0L1496.0 110.3H1495.0L1495.0 111.8H1494.0L1494.0 119.1H1493.0L1493.0 119.1H1492.0L1492.0 110.5H1491.0L1491.0 113.2H1490.0L1490.0 113.2H1489.0L1489.0 109.1H1488.0L1488.0 113.0H1487.0L1487.0 113.0H1486.0L1486.0 109.9H1485.0L1485.0 109.9H1484.0L1484.0 112.5H1483.0L1483.0 124.0H1482.0L1482.0 124.0H1481.0L1481.0 108.4H1480.0L1480.0 125.1H1479.0L1479.0 110.1H1478.0L1478.0 110.1H1477.0L1477.0 110.1H1476.0L1476.0 141.0H1475.0L1475.0 128.2H1474.0L1474.0 147.1H1473.0L1473.0 147.1H1472.0L1472.0 139.4H1471.0L1471.0 146.1H1470.0L1470.0 135.4H1469.0L1469.0 143.6H1468.0L1468.0 143.6H1467.0L1467.0 129.0H1466.0L1466.0 137.2H1465.0L1465.0 137.2H1464.0L1464.0 128.7H1463.0L1463.0 146.5H1462.0L1462.0 146.5H1461.0L1461.0 138.4H1460.0L1460.0 138.2H1459.0L1459.0 138.2H1458.0L1458.0 139.6H1457.0L1457.0 146.9H1456.0L1456.0 146.9H1455.0L1455.0 139.5H1454.0L1454.0 145.4H1453.0L1453.0 142.1H1452.0L1452.0 145.4H1451.0L1451.0 145.4H1450.0L1450.0 140.0H1449.0L1449.0 140.0H1448.0L1448.0 140.0H1447.0L1447.0 142.0H1446.0L1446.0 142.0H1445.0L1445.0 142.0H1444.0L1444.0 137.9H1443.0L1443.0 135.9H1442.0L1442.0 142.4H1441.0L1441.0 142.4H1440.0L1440.0 132.4H1439.0L1439.0 130.4H1438.0L1438.0 130.4H1437.0L1437.0 141.6H1436.0L1436.0 141.6H1435.0L1435.0 129.1H1434.0L1434.0 142.0H1433.0L1433.0 142.0H1432.0L1432.0 133.9H1431.0L1431.0 131.8H1430.0L1430.0 131.8H1429.0L1429.0 137.4H1428.0L1428.0 137.4H1427.0L1427.0 137.4H1426.0L1426.0 129.7H1425.0L1425.0 135.2H1424.0L1424.0 135.2H1423.0L1423.0 135.2H1422.0L1422.0 122.2H1421.0L1421.0 125.8H1420.0L1420.0 125.8H1419.0L1419.0 125.8H1418.0L1418.0 121.4H1417.0L1417.0 125.0H1416.0L1416.0 125.0H1415.0L1415.0 123.0H1414.0L1414.0 123.0H1413.0L1413.0 132.9H1412.0L1412.0 132.9H1411.0L1411.0 125.1H1410.0L1410.0 125.1H1409.0L1409.0 123.7H1408.0L1408.0 129.4H1407.0L1407.0 129.4H1406.0L1406.0 123.7H1405.0L1405.0 121.9H1404.0L1404.0 131.0H1403.0L1403.0 131.0H1402.0L1402.0 118.1H1401.0L1401.0 124.1H1400.0L1400.0 124.1H1399.0L1399.0 118.3H1398.0L1398.0 120.1H1397.0L1397.0 120.1H1396.0L1396.0 119.4H1395.0L1395.0 118.4H1394.0L1394.0 129.4H1393.0L1393.0 129.4H1392.0L1392.0 116.6H1391.0L1391.0 117.9H1390.0L1390.0 121.0H1389.0L1389.0 121.0H1388.0L1388.0 115.8H1387.0L1387.0 121.3H1386.0L1386.0 116.5H1385.0L1385.0 116.5H1384.0L1384.0 120.2H1383.0L1383.0 120.2H1382.0L1382.0 119.3H1381.0L1381.0 119.3H1380.0L1380.0 119.3H1379.0L1379.0 144.3H1378.0L1378.0 144.3H1377.0L1377.0 138.9H1376.0L1376.0 138.6H1375.0L1375.0 149.3H1374.0L1374.0 149.3H1373.0L1373.0 140.6H1372.0L1372.0 140.6H1371.0L1371.0 144.4H1370.0L1370.0 144.4H1369.0L1369.0 128.7H1368.0L1368.0 128.7H1367.0L1367.0 136.2H1366.0L1366.0 136.2H1365.0L1365.0 126.2H1364.0L1364.0 130.1H1363.0L1363.0 130.1H1362.0L1362.0 126.9H1361.0L1361.0 125.1H1360.0L1360.0 130.3H1359.0L1359.0 130.3H1358.0L1358.0 130.3H1357.0L1357.0 127.0H1356.0L1356.0 124.8H1355.0L1355.0 138.1H1354.0L1354.0 138.1H1353.0L1353.0 129.8H1352.0L1352.0 136.0H1351.0L1351.0 136.0H1350.0L1350.0 161.5H1349.0L1349.0 153.1H1348.0L1348.0 160.1H1347.0L1347.0 160.1H1346.0L1346.0 152.7H1345.0L1345.0 161.4H1344.0L1344.0 149.3H1343.0L1343.0 155.0H1342.0L1342.0 155.0H1341.0L1341.0 142.2H1340.0L1340.0 152.5H1339.0L1339.0 152.5H1338.0L1338.0 137.3H1337.0L1337.0 144.0H1336.0L1336.0 144.0H1335.0L1335.0 144.0H1334.0L1334.0 130.2H1333.0L1333.0 130.2H1332.0L1332.0 130.2H1331.0L1331.0 135.5H1330.0L1330.0 135.5H1329.0L1329.0 126.3H1328.0L1328.0 126.3H1327.0L1327.0 128.8H1326.0L1326.0 128.8H1325.0L1325.0 128.8H1324.0L1324.0 126.0H1323.0L1323.0 133.7H1322.0L1322.0 133.7H1321.0L1321.0 123.6H1320.0L1320.0 121.1H1319.0L1319.0 123.9H1318.0L1318.0 123.9H1317.0L1317.0 117.2H1316.0L1316.0 118.6H1315.0L1315.0 118.6H1314.0L1314.0 118.6H1313.0L1313.0 129.0H1312.0L1312.0 129.0H1311.0L1311.0 129.0H1310.0L1310.0 122.8H1309.0L1309.0 144.5H1308.0L1308.0 144.5H1307.0L1307.0 134.3H1306.0L1306.0 129.4H1305.0L1305.0 129.4H1304.0L1304.0 129.4H1303.0L1303.0 130.4H1302.0L1302.0 130.4H1301.0L1301.0 122.1H1300.0L1300.0 120.9H1299.0L1299.0 123.3H1298.0L1298.0 123.3H1297.0L1297.0 118.0H1296.0L1296.0 119.5H1295.0L1295.0 124.2H1294.0L1294.0 124.2H1293.0L1293.0 117.9H1292.0L1292.0 122.1H1291.0L1291.0 116.3H1290.0L1290.0 120.8H1289.0L1289.0 120.8H1288.0L1288.0 115.9H1287.0L1287.0 118.8H1286.0L1286.0 118.8H1285.0L1285.0 118.8H1284.0L1284.0 115.0H1283.0L1283.0 114.2H1282.0L1282.0 115.6H1281.0L1281.0 115.6H1280.0L1280.0 110.4H1279.0L1279.0 112.0H1278.0L1278.0 112.0H1277.0L1277.0 117.4H1276.0L1276.0 117.4H1275.0L1275.0 112.7H1274.0L1274.0 111.9H1273.0L1273.0 132.9H1272.0L1272.0 132.9H1271.0L1271.0 119.7H1270.0L1270.0 119.7H1269.0L1269.0 119.7H1268.0L1268.0 124.3H1267.0L1267.0 124.3H1266.0L1266.0 115.5H1265.0L1265.0 122.1H1264.0L1264.0 122.1H1263.0L1263.0 112.9H1262.0L1262.0 113.3H1261.0L1261.0 118.9H1260.0L1260.0 118.9H1259.0L1259.0 118.9H1258.0L1258.0 114.3H1257.0L1257.0 114.3H1256.0L1256.0 114.3H1255.0L1255.0 124.3H1254.0L1254.0 115.0H1253.0L1253.0 123.6H1252.0L1252.0 123.6H1251.0L1251.0 116.9H1250.0L1250.0 124.7H1249.0L1249.0 124.7H1248.0L1248.0 118.6H1247.0L1247.0 118.6H1246.0L1246.0 118.6H1245.0L1245.0 121.2H1244.0L1244.0 121.2H1243.0L1243.0 116.3H1242.0L1242.0 120.7H1241.0L1241.0 120.7H1240.0L1240.0 115.1H1239.0L1239.0 121.9H1238.0L1238.0 121.9H1237.0L1237.0 121.9H1236.0L1236.0 115.1H1235.0L1235.0 129.9H1234.0L1234.0 129.9H1233.0L1233.0 119.5H1232.0L1232.0 115.1H1231.0L1231.0 119.8H1230.0L1230.0 119.8H1229.0L1229.0 119.8H1228.0L1228.0 112.3H1227.0L1227.0 112.3H1226.0L1226.0 116.2H1225.0L1225.0 116.2H1224.0L1224.0 110.9H1223.0L1223.0 110.9H1222.0L1222.0 115.9H1221.0L1221.0 115.9H1220.0L1220.0 111.0H1219.0L1219.0 128.5H1218.0L1218.0 128.5H1217.0L1217.0 113.9H1216.0L1216.0 111.0H1215.0L1215.0 122.8H1214.0L1214.0 122.8H1213.0L1213.0 114.5H1212.0L1212.0 124.8H1211.0L1211.0 124.8H1210.0L1210.0 116.0H1209.0L1209.0 124.2H1208.0L1208.0 124.2H1207.0L1207.0 117.8H1206.0L1206.0 116.9H1205.0L1205.0 124.7H1204.0L1204.0 124.7H1203.0L1203.0 117.2H1202.0L1202.0 117.2H1201.0L1201.0 123.6H1200.0L1200.0 123.6H1199.0L1199.0 116.0H1198.0L1198.0 123.6H1197.0L1197.0 123.6H1196.0L1196.0 123.6H1195.0L1195.0 113.5H1194.0L1194.0 113.5H1193.0L1193.0 116.7H1192.0L1192.0 116.7H1191.0L1191.0 111.0H1190.0L1190.0 111.0H1189.0L1189.0 117.0H1188.0L1188.0 117.0H1187.0L1187.0 117.0H1186.0L1186.0 110.0H1185.0L1185.0 110.0H1184.0L1184.0 110.0H1183.0L1183.0 111.6H1182.0L1182.0 111.6H1181.0L1181.0 110.0H1180.0L1180.0 110.0H1179.0L1179.0 113.9H1178.0L1178.0 113.9H1177.0L1177.0 113.9H1176.0L1176.0 110.6H1175.0L1175.0 124.7H1174.0L1174.0 124.7H1173.0L1173.0 118.7H1172.0L1172.0 122.5H1171.0L1171.0 115.4H1170.0L1170.0 115.4H1169.0L1169.0 115.4H1168.0L1168.0 122.3H1167.0L1167.0 114.8H1166.0L1166.0 123.1H1165.0L1165.0 123.1H1164.0L1164.0 114.4H1163.0L1163.0 116.0H1162.0L1162.0 116.0H1161.0L1161.0 119.2H1160.0L1160.0 132.1H1159.0L1159.0 132.1H1158.0L1158.0 125.2H1157.0L1157.0 135.2H1156.0L1156.0 135.2H1155.0L1155.0 112.9H1154.0L1154.0 119.8H1153.0L1153.0 119.8H1152.0L1152.0 111.4H1151.0L1151.0 122.3H1150.0L1150.0 122.3H1149.0L1149.0 112.5H1148.0L1148.0 112.5H1147.0L1147.0 120.9H1146.0L1146.0 120.9H1145.0L1145.0 111.9H1144.0L1144.0 108.0H1143.0L1143.0 117.5H1142.0L1142.0 117.5H1141.0L1141.0 117.5H1140.0Z" fill="#4b4b4b"/>
<path d="M1145.5 36.1V111.4M1147.5 36.1V109.6M1151.5 36.1V108.5M1159.5 36.1V113.3M1164.5 36.1V113.6M1166.5 36.1V112.2M1167.5 36.1V112.2M1169.5 36.1V109.1M1173.5 36.2V110.9M1174.5 36.2V106.5M1188.5 36.2V106.6M1192.5 36.2V108.3M1193.5 36.2V109.8M1198.5 36.2V112.6M1200.5 36.2V113.1M1201.5 36.2V112.6M1208.5 36.3V111.9M1211.5 36.3V109.5M1212.5 36.3V110.3M1214.5 36.3V109.5M1218.5 36.3V113.4M1222.5 36.3V108.1M1224.5 36.3V108.1M1226.5 36.3V109.1M1234.5 36.3V114.7M1235.5 36.3V112.2M1241.5 36.4V112.2M1249.5 36.4V113.8M1253.5 36.4V112.0M1261.5 40.0V110.7M1262.5 40.1V110.7M1263.5 40.1V112.6M1267.5 43.7V114.7M1268.5 47.2V113.7M1269.5 51.2V116.9M1275.5 40.7V108.4M1277.5 40.8V108.4M1278.5 40.8V108.4M1279.5 40.9V108.4M1286.5 42.0V112.2M1291.5 44.1V114.8M1299.5 47.6V117.8M1302.5 52.2V118.4M1304.5 61.0V124.4M1306.5 69.5V131.4M1309.5 58.7V118.3M1325.5 55.1V123.2M1326.5 55.5V123.2M1335.5 61.8V128.9M1341.5 72.1V140.3M1342.5 73.8V142.3M1346.5 86.6V150.6M1351.5 67.3V126.4M1352.5 63.3V127.5M1355.5 61.0V122.5M1356.5 56.6V122.5M1378.5 68.1V126.4M1387.5 42.8V111.7M1401.5 46.2V114.2M1403.5 46.9V115.8M1421.5 54.1V119.0M1424.5 56.5V123.0M1425.5 57.3V124.4M1432.5 68.6V132.5M1435.5 55.2V127.1M1436.5 55.7V127.1M1440.5 57.7V132.9M1441.5 58.4V132.4M1446.5 61.9V135.6M1454.5 67.7V137.3M1455.5 68.5V138.3M1456.5 69.3V139.6M1457.5 70.1V135.8M1458.5 70.8V134.9M1459.5 71.6V134.0M1461.5 75.0V137.0M1464.5 60.2V125.7M1472.5 73.2V137.6M1481.5 37.5V111.6M1483.5 37.5V109.2M1487.5 37.4V105.8M1492.5 37.5V106.0M1501.5 37.7V113.1M1503.5 37.7V111.9M1506.5 37.8V112.0M1507.5 37.8V112.0M1509.5 37.9V112.0M1520.5 38.1V106.6M1521.5 38.1V106.6M1529.5 39.8V110.4M1530.5 40.1V110.4M1531.5 40.3V110.4M1533.5 40.7V110.4M1536.5 41.1V112.2M1537.5 41.2V114.2M1539.5 41.5V110.3M1540.5 41.7V110.3M1541.5 41.8V110.3M1544.5 42.0V110.3M1553.5 42.0V114.0M1554.5 42.1V114.0M1558.5 42.5V114.4M1562.5 42.9V112.2M1570.5 43.4V114.9M1579.5 45.0V117.8M1581.5 45.5V117.8M1583.5 49.4V119.9M1593.5 57.2V126.6M1595.5 55.8V121.0M1603.5 39.0V109.5M1607.5 39.0V116.8M1613.5 39.1V109.2M1615.5 39.1V109.2M1625.5 40.3V110.2M1629.5 40.4V110.2M1633.5 40.9V110.2M1662.5 44.5V118.5M1664.5 44.9V118.2M1665.5 45.1V119.7M1666.5 45.3V119.7M1670.5 46.1V119.6M1675.5 47.2V119.6M1681.5 49.0V121.1M1684.5 50.1V121.1M1697.5 57.0V122.3M1698.5 57.6V123.3M1706.5 62.4V130.8M1709.5 64.2V131.3M1716.5 65.8V139.4M1719.5 66.1V139.4M1721.5 67.2V139.4M1724.5 69.2V139.4M1728.5 71.9V141.8M1730.5 73.7V145.0M1737.5 82.9V149.5M1745.5 77.7V121.8M1746.5 65.9V123.9M1751.5 45.7V115.2M1759.5 48.5V121.2M1761.5 49.5V123.3M1763.5 51.3V123.3" stroke="#555" stroke-width="1" fill="none"/>
<path d="M1149.5 36.1V121.8M1152.5 36.1V119.3M1158.5 36.1V131.6M1177.5 36.2V113.4M1182.5 36.2V111.1M1183.5 36.2V109.5M1184.5 36.2V109.5M1185.5 36.2V109.5M1186.5 36.2V116.5M1189.5 36.2V110.5M1190.5 36.2V110.5M1194.5 36.2V113.0M1195.5 36.2V123.1M1203.5 36.2V124.2M1205.5 36.3V116.4M1207.5 36.3V123.7M1221.5 36.3V115.4M1223.5 36.3V110.4M1232.5 36.3V119.0M1244.5 36.4V120.7M1245.5 36.4V118.1M1257.5 39.9V113.8M1265.5 40.7V115.0M1271.5 59.3V132.4M1276.5 40.7V116.9M1280.5 40.9V115.1M1284.5 41.0V118.3M1288.5 43.0V120.3M1305.5 66.0V128.9M1314.5 47.0V118.1M1315.5 47.4V118.1M1320.5 49.4V123.1M1321.5 58.6V133.2M1322.5 59.5V133.2M1323.5 54.3V125.5M1336.5 63.5V143.5M1337.5 65.1V136.8M1344.5 77.3V160.9M1358.5 52.4V129.8M1363.5 54.4V129.6M1366.5 57.0V135.7M1367.5 60.7V128.2M1371.5 74.3V140.1M1376.5 73.0V138.4M1377.5 70.7V143.8M1381.5 41.9V118.8M1382.5 42.1V119.7M1383.5 42.2V119.7M1385.5 42.5V116.0M1394.5 44.0V117.9M1398.5 45.2V117.8M1399.5 45.6V123.6M1400.5 45.9V123.6M1402.5 46.6V130.5M1404.5 47.2V121.4M1407.5 48.2V128.9M1409.5 48.7V124.6M1416.5 50.4V124.5M1417.5 50.9V120.9M1420.5 53.3V125.3M1427.5 60.6V136.9M1431.5 69.0V133.4M1433.5 61.9V141.5M1443.5 59.8V137.4M1478.5 37.5V109.6M1485.5 37.4V109.4M1491.5 37.5V110.0M1498.5 37.7V114.4M1510.5 37.9V114.5M1512.5 37.9V128.7M1523.5 38.4V111.5M1526.5 39.1V121.2M1551.5 42.0V128.7M1552.5 42.0V128.7M1565.5 43.1V126.5M1566.5 43.2V126.5M1567.5 43.2V115.3M1568.5 43.3V118.9M1576.5 44.3V121.9M1588.5 56.8V132.6M1591.5 58.0V136.7M1594.5 56.8V135.6M1606.5 39.0V118.8M1614.5 39.1V117.0M1621.5 40.1V119.5M1622.5 40.1V119.5M1639.5 41.5V116.9M1642.5 41.8V121.4M1643.5 41.9V117.8M1644.5 42.0V121.1M1648.5 42.5V122.4M1656.5 43.3V124.7M1657.5 43.5V119.0M1659.5 43.9V122.5M1667.5 45.5V127.7M1668.5 45.7V127.7M1669.5 45.9V127.7M1672.5 46.5V126.0M1678.5 48.1V128.0M1680.5 48.7V125.6M1682.5 49.3V132.0M1685.5 50.6V123.7M1696.5 56.4V125.1M1700.5 58.8V129.5M1703.5 60.6V134.2M1715.5 65.6V142.4M1720.5 66.5V144.9M1725.5 69.9V142.2M1732.5 75.7V148.8M1733.5 76.7V158.1M1743.5 83.7V151.0M1744.5 86.0V161.4M1752.5 45.9V123.2" stroke="#464646" stroke-width="1" fill="none"/>
<path d="M1145.6 35.5h2.8v3.1h-1.4zM1149.0 35.5h2.0v3.8h-1.4zM1151.8 35.5h1.7v3.8h-1.4zM1156.1 35.5h3.1v5.7h-1.4zM1166.5 35.5h2.9v5.3h-1.4zM1174.1 35.5h3.4v2.1h-1.4zM1179.2 35.6h3.4v4.0h-1.4zM1182.4 35.6h2.3v2.3h-1.4zM1185.5 35.6h2.1v6.3h-1.4zM1191.1 35.6h1.5v3.1h-1.4zM1195.6 35.6h3.6v5.6h-1.4zM1200.6 35.6h2.5v4.6h-1.4zM1208.5 35.7h3.1v2.5h-1.4zM1212.2 35.7h1.9v2.1h-1.4zM1214.7 35.7h3.8v3.8h-1.4zM1219.1 35.7h3.6v5.7h-1.4zM1235.1 35.7h2.6v6.1h-1.4zM1240.0 35.8h3.9v7.3h-1.4zM1245.3 35.8h2.5v2.5h-1.4zM1257.9 39.3h2.1v3.1h-1.4zM1277.2 40.1h1.7v5.3h-1.4zM1283.9 40.4h2.0v7.7h-1.4zM1291.7 43.1h3.3v4.6h-1.4zM1314.2 46.2h2.5v3.0h-1.4zM1389.7 42.4h3.6v7.1h-1.4zM1395.2 43.2h4.3v3.5h-1.4zM1398.8 44.3h2.7v8.0h-1.4zM1404.1 46.1h3.1v7.5h-1.4zM1407.4 47.1h1.9v5.6h-1.4zM1411.2 48.3h4.2v7.5h-1.4zM1484.1 36.9h3.4v6.3h-1.4zM1486.5 36.9h3.3v6.0h-1.4zM1489.5 36.9h1.8v2.6h-1.4zM1493.4 36.9h2.3v2.2h-1.4zM1498.9 37.0h3.2v7.8h-1.4zM1501.0 37.1h4.4v5.0h-1.4zM1504.1 37.1h1.6v7.2h-1.4zM1509.7 37.2h2.3v2.2h-1.4zM1512.7 37.3h4.0v6.8h-1.4zM1521.4 37.5h3.0v2.8h-1.4zM1526.1 38.1h3.2v3.9h-1.4zM1535.8 40.2h2.3v4.4h-1.4zM1547.9 41.4h2.4v4.3h-1.4zM1551.1 41.4h2.5v2.0h-1.4zM1556.0 41.6h3.5v2.2h-1.4zM1564.5 42.4h1.7v6.2h-1.4zM1567.2 42.5h4.4v5.8h-1.4zM1569.9 42.7h3.6v4.9h-1.4zM1601.7 38.3h1.9v4.2h-1.4zM1605.6 38.4h3.4v4.1h-1.4zM1610.9 38.5h3.6v7.4h-1.4zM1614.3 38.5h2.2v2.8h-1.4zM1617.7 38.6h3.3v7.0h-1.4zM1620.7 38.6h3.5v7.0h-1.4zM1623.4 39.5h3.1v5.1h-1.4zM1626.3 39.6h3.3v3.8h-1.4zM1631.6 39.9h4.0v3.3h-1.4zM1636.0 40.4h3.2v4.4h-1.4zM1640.1 40.8h3.6v3.4h-1.4zM1644.6 41.3h3.0v7.0h-1.4zM1656.3 42.5h3.2v7.5h-1.4zM1658.6 42.9h3.0v5.1h-1.4zM1665.4 44.2h3.0v2.4h-1.4zM1673.6 45.9h3.9v2.2h-1.4zM1677.2 46.7h3.1v4.2h-1.4zM1680.1 47.6h3.2v4.3h-1.4zM1712.1 64.5h2.6v4.8h-1.4z" fill="#fff" stroke="none"/>
<path d="M1142.0 36.6h3.2v5.7M1144.6 36.3v8.1M1144.6 36.7h4.3v4.4M1147.6 36.7h2.7v5.8M1150.9 36.3v5.1M1160.4 36.7h4.2v5.7M1165.1 36.3v8.9M1165.1 36.7h4.8v6.5M1168.1 36.3v8.2M1168.1 36.7h3.9v6.3M1173.1 36.7h4.3v8.0M1181.3 36.8h3.4v5.5M1184.6 36.4v10.8M1184.6 36.8h4.9v3.4M1190.1 36.4v15.1M1197.2 36.8h2.8v7.7M1199.5 36.4v12.5M1204.8 36.9h4.2v5.0M1207.2 36.9h4.7v6.1M1217.6 36.5v8.4M1217.6 36.9h3.3v6.0M1223.0 36.9h2.9v7.8M1225.6 36.5v11.3M1233.7 36.5v12.8M1238.8 36.6v3.0M1238.8 37.0h4.6v7.1M1248.7 37.0h3.5v6.5M1254.0 37.7v11.7M1256.9 40.1v12.2M1260.3 40.2v6.1M1263.8 40.3v5.8M1263.8 40.7h3.2v6.0M1266.3 42.1v25.5M1266.3 42.5h4.4v5.1M1276.3 40.9v3.2M1280.1 41.5h3.3v4.2M1282.6 41.2v8.1M1290.4 43.9v4.9M1294.2 45.2v3.7M1294.2 45.6h2.9v6.4M1299.8 48.4h2.7v7.9M1306.1 68.5v9.1M1312.8 47.0v5.5M1312.8 47.4h3.3v7.5M1317.9 48.6v20.8M1317.9 49.0h3.5v5.1M1325.6 55.3v6.8M1331.9 59.1v4.4M1337.1 64.6v9.4M1342.3 74.1h4.8v5.4M1359.9 53.1v16.8M1365.1 55.2v8.4M1368.8 67.2v6.2M1368.8 67.6h3.0v3.5M1376.1 74.0v7.2M1378.4 68.9h4.7v5.7M1384.3 42.9h3.6v7.2M1388.3 43.2v16.6M1393.7 44.0v14.8M1393.7 44.4h4.1v4.8M1397.7 45.5h2.6v7.9M1403.1 46.9v6.8M1406.1 47.9v8.7M1413.1 49.8v10.3M1413.1 50.2h3.5v5.7M1416.5 50.6v11.8M1416.5 51.0h3.8v4.9M1420.7 54.0h3.2v7.4M1423.6 55.9v9.3M1423.6 56.3h2.7v4.9M1427.2 60.6h4.2v3.7M1438.6 57.0v3.6M1438.6 57.4h3.5v8.0M1441.3 58.5v12.9M1441.3 58.9h4.3v4.5M1444.8 61.4h3.3v5.7M1449.7 64.4v6.5M1449.7 64.8h4.6v7.2M1455.0 68.7h4.7v4.5M1459.0 71.4v9.0M1462.5 68.8v7.1M1462.5 69.2h3.1v5.0M1466.3 62.9v15.7M1471.8 72.2v14.0M1471.8 72.6h2.7v4.6M1479.0 38.1h2.9v4.4M1482.9 37.7v3.4M1485.1 37.7v7.1M1485.1 38.1h3.7v5.8M1488.2 37.7v5.5M1488.2 38.1h3.8v7.1M1492.4 37.7v13.5M1497.4 37.8v5.7M1497.4 38.2h4.1v4.2M1502.8 37.9v12.7M1502.8 38.3h2.9v4.9M1505.0 38.0v5.2M1505.0 38.4h4.1v7.8M1508.6 38.0v5.3M1511.6 38.5h3.4v6.6M1515.0 38.2v5.9M1524.8 39.3h2.7v3.9M1529.8 40.1v8.3M1534.5 41.0v4.9M1539.3 41.7v17.9M1544.4 42.2v13.6M1544.4 42.6h4.1v3.9M1547.0 42.2v8.3M1547.0 42.6h3.3v6.2M1549.8 42.2v7.3M1554.6 42.4v15.0M1554.6 42.8h4.4v4.7M1559.8 43.3h2.7v7.7M1563.4 43.6h3.8v7.6M1569.0 43.5v5.1M1569.0 43.9h4.3v3.0M1573.5 43.7v19.9M1573.5 44.1h3.9v4.7M1578.4 45.4h4.4v7.2M1581.0 45.6v5.9M1581.0 46.0h2.8v4.5M1586.3 54.4v5.8M1586.3 54.8h2.5v8.0M1596.4 54.5v6.3M1604.6 39.2v7.3M1604.6 39.6h2.8v7.6M1609.5 39.3v3.2M1616.9 39.4v11.8M1619.6 39.4v12.1M1622.3 40.7h3.8v6.1M1634.9 41.2v11.0M1634.9 41.6h3.0v7.4M1638.9 42.0h3.9v6.5M1647.8 42.6v7.1M1647.8 43.0h3.7v3.5M1651.2 42.9v3.3M1657.7 43.7v13.9M1657.7 44.1h3.7v7.1M1661.0 44.4v7.8M1664.1 45.4h2.9v7.7M1669.2 46.0v12.7M1672.2 46.7v5.1M1672.2 47.1h4.5v6.4M1675.7 47.5v23.6M1679.0 48.4v3.3M1679.0 48.8h2.5v5.9M1684.9 50.5v6.0M1690.3 53.1v15.2M1690.3 53.5h3.9v3.5M1699.7 58.6v6.3M1699.7 59.0h3.3v7.9M1703.5 61.2h4.7v6.4M1707.1 63.0v4.8M1707.1 63.4h3.3v6.6M1715.6 65.9v10.6M1720.3 66.5v3.1M1723.4 69.1h4.5v7.4M1726.7 71.3h2.6v4.6M1731.8 75.6h3.5v3.2M1736.1 79.5v15.9M1738.3 85.5v8.9M1741.6 91.2v4.3M1741.6 91.6h3.4v4.7M1751.1 45.8v12.8M1751.1 46.2h4.3v6.8M1755.9 47.4h3.8v4.4M1762.5 50.5v22.9M1762.5 50.9h4.4v4.3" stroke="#adadad" stroke-width="1.6" fill="none"/>
<path d="M1142.0 36.2v6.8M1147.6 36.3v5.9M1155.0 36.3v5.7M1160.4 36.3v15.2M1173.1 36.3v9.0M1177.9 36.4v5.9M1181.3 36.4v12.4M1194.3 36.4v15.3M1197.2 36.4v9.4M1204.8 36.5v6.1M1207.2 36.5v9.0M1210.8 36.5v9.0M1213.8 36.5v20.0M1223.0 36.5v10.5M1230.4 36.5v3.4M1243.9 36.6v8.1M1248.7 36.6v13.8M1280.1 41.1v13.1M1284.9 41.4v8.4M1296.4 46.0v9.3M1299.8 48.0v15.7M1315.3 47.6v14.3M1329.3 57.0v5.6M1339.9 69.5v3.4M1342.3 73.7v8.1M1347.4 87.5v6.4M1371.8 75.0v8.6M1378.4 68.5v6.5M1384.3 42.5v9.3M1397.7 45.1v4.2M1410.0 49.1v6.5M1420.7 53.6v17.8M1427.2 60.2v8.9M1430.1 66.2v12.1M1444.8 61.0v8.1M1455.0 68.3v25.8M1479.0 37.7v14.6M1499.8 37.9v8.4M1511.6 38.1v4.6M1520.4 38.3v5.6M1524.8 38.9v4.6M1559.8 42.9v11.1M1563.4 43.2v13.9M1566.0 43.3v7.2M1578.4 45.0v9.4M1591.0 58.4v10.7M1600.6 39.1v8.6M1613.4 39.3v16.0M1622.3 40.3v7.8M1625.0 40.4v22.8M1630.4 40.7v9.1M1638.9 41.6v8.0M1643.5 42.1v13.4M1654.9 43.3v11.4M1664.1 45.0v8.2M1682.3 49.4v8.3M1695.1 55.8v15.5M1703.5 60.8v14.5M1711.1 65.3v4.1M1723.4 68.7v7.4M1726.7 70.9v4.6M1731.8 75.2v11.2M1755.9 47.0v12.4M1758.9 48.4v7.9" stroke="#8a8a8a" stroke-width="1.9" fill="none"/>
<path d="M1321.3 50.2V56.8M1353.0 57.0V64.8M1354.0 57.4V67.0M1368.3 57.9V65.1M1370.3 58.8V72.4M1372.3 56.9V76.2M1374.3 57.9V77.5M1375.3 58.1V75.6M1376.3 59.4V73.7M1429.0 53.9V64.1M1430.0 53.0V66.3M1432.0 54.0V70.5M1452.0 56.2V66.3M1456.0 58.3V69.3M1458.0 58.8V70.9M1461.0 58.7V75.0M1462.0 56.9V75.5M1470.4 59.7V69.7M1473.4 58.8V75.3M1586.0 46.7V54.2M1587.0 44.3V55.4M1591.0 45.6V58.6M1596.0 46.9V55.3M1739.0 80.2V87.6M1741.0 80.8V93.5M1743.0 80.1V85.1" stroke="#b4b4b4" stroke-width="1.1" fill="none"/>
<path d="M1307.9 50.1V73.6M1309.9 52.6V54.3M1323.3 48.6V54.6M1356.0 56.8V59.2M1377.3 61.7V71.7M1379.3 61.5V66.3M1433.0 57.8V65.7M1457.0 58.2V70.1M1465.4 58.8V61.8M1467.4 59.0V64.5M1468.4 60.2V65.9M1469.4 59.0V67.8M1471.4 58.0V71.6M1472.4 57.1V73.4M1584.0 47.5V50.9M1590.0 44.0V59.0M1592.0 46.7V58.2M1594.0 48.2V57.4" stroke="#7c7c7c" stroke-width="1.1" fill="none"/>
<path d="M1140.6 106V34.4H1484.2M1485 35.3L1568 35.8L1613.6 36.3L1631 37.8L1656.8 40.4L1677.3 41.2H1749.2V43.5M1143 35.3H1273.5V39M1273.5 37.2H1290 L1333.6 39.2 H1381.4V40.4M1311 44V41.6H1333.6M1326.5 54V49.5H1352.7V56M1330 55L1336 62L1342 71L1347 80L1348.6 87M1352.7 51H1357L1372 56L1380.6 60M1381.4 40.4L1400 43L1420 47L1432 53V67M1432 53H1434.4L1450 56L1462 61V73M1434 52.7H1464.6V57M1464.6 57L1474 66M1584.4 47.7H1596.2V58M1660 42L1680 47L1700 56L1716 63L1730 72L1742.8 80V90M1698.9 55.3L1745.1 57.4V81M1749.2 41.4L1756.4 43L1763.6 47.1L1765.6 54.8V128" stroke="#2a2a2a" stroke-width="0.7" fill="none"/>
<rect x="1482.2" y="35" width="2.6" height="130" fill="#fff"/>
<path d="M1485.2 100V266" stroke="#d2d2d2" stroke-width="0.9" stroke-dasharray="1 1.4" fill="none" opacity="0"/>
<path d="M1483.9 34.4V179" stroke="#333" stroke-width="0.8"/>
<path d="M1483.6 178.7V251" stroke="#3d3d3d" stroke-width="2.1"/>
<rect x="1140.5" y="269.5" width="1.8" height="79.5" fill="#1a10c8"/>
<rect x="1142.0" y="269.5" width="1.0" height="79.5" fill="#bebebe"/>
<rect x="1142.8" y="269.5" width="1.1" height="79.5" fill="#0000ee"/>
<rect x="1143.7" y="269.5" width="1.1" height="79.5" fill="#b0b0d0"/>
<rect x="1144.5" y="269.5" width="6.6" height="79.5" fill="#bebebe"/>
<rect x="1150.8" y="269.5" width="3.5" height="79.5" fill="#ad7d7d"/>
<rect x="1154.1" y="269.5" width="1.3" height="79.5" fill="#bebebe"/>
<rect x="1155.1" y="269.5" width="7.3" height="79.5" fill="#8b2b2b"/>
<rect x="1162.1" y="269.5" width="2.0" height="79.5" fill="#bebebe"/>
<rect x="1163.9" y="269.5" width="2.6" height="79.5" fill="#0000ee"/>
<rect x="1166.3" y="269.5" width="1.6" height="79.5" fill="#bebebe"/>
<rect x="1167.6" y="269.5" width="2.2" height="79.5" fill="#a03838"/>
<rect x="1169.5" y="269.5" width="2.2" height="79.5" fill="#0000ee"/>
<rect x="1171.4" y="269.5" width="8.6" height="79.5" fill="#bebebe"/>
<rect x="1179.8" y="269.5" width="1.4" height="79.5" fill="#3a5af0"/>
<rect x="1180.9" y="269.5" width="2.0" height="79.5" fill="#c8c8a0"/>
<rect x="1182.7" y="269.5" width="2.5" height="79.5" fill="#ffff3c"/>
<rect x="1184.9" y="269.5" width="1.7" height="79.5" fill="#b0d890"/>
<rect x="1186.4" y="269.5" width="2.5" height="79.5" fill="#ffff3c"/>
<rect x="1188.6" y="269.5" width="2.5" height="79.5" fill="#8cfc3c"/>
<rect x="1190.8" y="269.5" width="2.5" height="79.5" fill="#e0e078"/>
<rect x="1193.0" y="269.5" width="3.2" height="79.5" fill="#a8d8b0"/>
<rect x="1195.9" y="269.5" width="2.5" height="79.5" fill="#8cfc3c"/>
<rect x="1198.1" y="269.5" width="3.2" height="79.5" fill="#d8d880"/>
<rect x="1201.0" y="269.5" width="2.9" height="79.5" fill="#8cfc3c"/>
<rect x="1203.7" y="269.5" width="0.8" height="79.5" fill="#ffff3c"/>
<rect x="1204.3" y="269.5" width="2.2" height="79.5" fill="#8cfc3c"/>
<rect x="1206.2" y="269.5" width="2.5" height="79.5" fill="#e6e060"/>
<rect x="1208.4" y="269.5" width="1.1" height="79.5" fill="#c8c890"/>
<rect x="1209.2" y="269.5" width="2.3" height="79.5" fill="#e6e060"/>
<rect x="1211.3" y="269.5" width="1.7" height="79.5" fill="#8cfc3c"/>
<rect x="1212.8" y="269.5" width="1.7" height="79.5" fill="#7a7ad8"/>
<rect x="1214.2" y="269.5" width="2.5" height="79.5" fill="#ffff3c"/>
<rect x="1216.4" y="269.5" width="3.6" height="79.5" fill="#0000ee"/>
<rect x="1219.8" y="269.5" width="3.5" height="79.5" fill="#ffff3c"/>
<rect x="1223.0" y="269.5" width="2.5" height="79.5" fill="#a8c8c0"/>
<rect x="1225.2" y="269.5" width="1.6" height="79.5" fill="#ffff3c"/>
<rect x="1226.6" y="269.5" width="0.8" height="79.5" fill="#bebebe"/>
<rect x="1227.1" y="269.5" width="1.3" height="79.5" fill="#ffff3c"/>
<rect x="1228.2" y="269.5" width="1.0" height="79.5" fill="#0000ee"/>
<rect x="1228.9" y="269.5" width="0.8" height="79.5" fill="#bebebe"/>
<rect x="1229.5" y="269.5" width="3.6" height="79.5" fill="#0000ee"/>
<rect x="1232.9" y="269.5" width="3.6" height="79.5" fill="#8cfc3c"/>
<rect x="1236.2" y="269.5" width="1.7" height="79.5" fill="#e0e070"/>
<rect x="1237.7" y="269.5" width="6.1" height="79.5" fill="#8cfc3c"/>
<rect x="1243.6" y="269.5" width="1.7" height="79.5" fill="#bebebe"/>
<rect x="1245.1" y="269.5" width="4.7" height="79.5" fill="#ffff3c"/>
<rect x="1249.5" y="269.5" width="0.8" height="79.5" fill="#e0e090"/>
<rect x="1250.0" y="269.5" width="4.4" height="79.5" fill="#ffff3c"/>
<rect x="1254.1" y="269.5" width="2.9" height="79.5" fill="#b0d880"/>
<rect x="1256.8" y="269.5" width="4.4" height="79.5" fill="#ffff3c"/>
<rect x="1260.9" y="269.5" width="0.7" height="79.5" fill="#666"/>
<rect x="1261.3" y="269.5" width="0.5" height="79.5" fill="#ffff3c"/>
<rect x="1261.6" y="269.5" width="0.7" height="79.5" fill="#3030a0"/>
<rect x="1262.1" y="269.5" width="2.0" height="79.5" fill="#ffff3c"/>
<rect x="1263.8" y="269.5" width="4.2" height="79.5" fill="#0000ee"/>
<rect x="1267.8" y="269.5" width="1.3" height="79.5" fill="#a8b8e8"/>
<rect x="1268.8" y="269.5" width="3.6" height="79.5" fill="#0000ee"/>
<rect x="1272.2" y="269.5" width="2.2" height="79.5" fill="#6f9c90"/>
<rect x="1274.1" y="269.5" width="2.7" height="79.5" fill="#c0f050"/>
<rect x="1276.6" y="269.5" width="4.7" height="79.5" fill="#ffff3c"/>
<rect x="1281.0" y="269.5" width="1.7" height="79.5" fill="#8cfc3c"/>
<rect x="1282.5" y="269.5" width="1.7" height="79.5" fill="#ffff3c"/>
<rect x="1283.9" y="269.5" width="3.9" height="79.5" fill="#8cfc3c"/>
<rect x="1287.6" y="269.5" width="1.7" height="79.5" fill="#ffff3c"/>
<rect x="1289.1" y="269.5" width="5.4" height="79.5" fill="#8cfc3c"/>
<rect x="1294.2" y="269.5" width="3.2" height="79.5" fill="#ffff3c"/>
<rect x="1297.1" y="269.5" width="2.2" height="79.5" fill="#8cfc3c"/>
<rect x="1299.0" y="269.5" width="12.3" height="79.5" fill="#ffff3c"/>
<rect x="1311.1" y="269.5" width="6.9" height="79.5" fill="#a8f848"/>
<rect x="1317.7" y="269.5" width="1.7" height="79.5" fill="#ffff3c"/>
<rect x="1319.2" y="269.5" width="5.4" height="79.5" fill="#8cfc3c"/>
<rect x="1324.3" y="269.5" width="1.0" height="79.5" fill="#ffff3c"/>
<rect x="1325.0" y="269.5" width="32.1" height="79.5" fill="#8cfc3c"/>
<rect x="1356.9" y="269.5" width="24.2" height="79.5" fill="#ffff3c"/>
<rect x="1380.8" y="269.5" width="94.5" height="79.5" fill="#0000ee"/>
<rect x="1475.0" y="269.5" width="4.5" height="79.5" fill="#bebebe"/>
<rect x="1479.2" y="269.5" width="3.1" height="79.5" fill="#b07a7a"/>
<rect x="1482.1" y="269.5" width="8.8" height="79.5" fill="#bebebe"/>
<rect x="1490.6" y="269.5" width="2.5" height="79.5" fill="#8b2b2b"/>
<rect x="1492.9" y="269.5" width="2.2" height="79.5" fill="#bebebe"/>
<rect x="1494.8" y="269.5" width="1.7" height="79.5" fill="#8b2b2b"/>
<rect x="1496.3" y="269.5" width="3.1" height="79.5" fill="#bebebe"/>
<rect x="1499.1" y="269.5" width="2.3" height="79.5" fill="#b88888"/>
<rect x="1501.2" y="269.5" width="2.8" height="79.5" fill="#8b2b2b"/>
<rect x="1503.7" y="269.5" width="1.6" height="79.5" fill="#7070d8"/>
<rect x="1505.1" y="269.5" width="1.4" height="79.5" fill="#bebebe"/>
<rect x="1506.2" y="269.5" width="2.3" height="79.5" fill="#8b2b2b"/>
<rect x="1508.2" y="269.5" width="3.7" height="79.5" fill="#0000ee"/>
<rect x="1511.6" y="269.5" width="1.4" height="79.5" fill="#4020a0"/>
<rect x="1512.8" y="269.5" width="2.0" height="79.5" fill="#bebebe"/>
<rect x="1514.5" y="269.5" width="1.7" height="79.5" fill="#5050e0"/>
<rect x="1516.0" y="269.5" width="5.0" height="79.5" fill="#bebebe"/>
<rect x="1520.8" y="269.5" width="5.4" height="79.5" fill="#a0d0c8"/>
<rect x="1525.9" y="269.5" width="1.4" height="79.5" fill="#bebebe"/>
<rect x="1527.0" y="269.5" width="1.7" height="79.5" fill="#c09090"/>
<rect x="1528.5" y="269.5" width="70.8" height="79.5" fill="#8b2b2b"/>
<rect x="1599.0" y="269.5" width="3.3" height="79.5" fill="#86dccb"/>
<rect x="1602.1" y="269.5" width="2.0" height="79.5" fill="#bebebe"/>
<rect x="1603.8" y="269.5" width="3.1" height="79.5" fill="#a6cfc8"/>
<rect x="1606.7" y="269.5" width="1.7" height="79.5" fill="#86dccb"/>
<rect x="1608.1" y="269.5" width="1.0" height="79.5" fill="#bebebe"/>
<rect x="1608.9" y="269.5" width="5.4" height="79.5" fill="#86dccb"/>
<rect x="1614.0" y="269.5" width="2.0" height="79.5" fill="#bebebe"/>
<rect x="1615.8" y="269.5" width="8.2" height="79.5" fill="#86dccb"/>
<rect x="1623.7" y="269.5" width="0.8" height="79.5" fill="#bebebe"/>
<rect x="1624.3" y="269.5" width="1.6" height="79.5" fill="#86dccb"/>
<rect x="1625.7" y="269.5" width="2.3" height="79.5" fill="#bebebe"/>
<rect x="1627.7" y="269.5" width="7.1" height="79.5" fill="#86dccb"/>
<rect x="1634.5" y="269.5" width="0.8" height="79.5" fill="#bebebe"/>
<rect x="1635.1" y="269.5" width="131.0" height="79.5" fill="#86dccb"/>
<path d="M1182.0 269.5V349M1183.9 269.5V349M1185.9 269.5V349M1187.5 269.5V349M1190.0 269.5V349M1192.5 269.5V349M1194.9 269.5V349M1199.1 269.5V349M1200.3 269.5V349M1202.8 269.5V349M1207.2 269.5V349M1209.8 269.5V349M1212.3 269.5V349M1215.3 269.5V349M1221.6 269.5V349M1224.1 269.5V349M1226.3 269.5V349M1227.7 269.5V349M1235.8 269.5V349M1237.3 269.5V349M1239.9 269.5V349M1244.3 269.5V349M1254.6 269.5V349M1256.3 269.5V349M1259.0 269.5V349M1275.6 269.5V349M1281.7 269.5V349M1287.9 269.5V349M1294.9 269.5V349M1297.6 269.5V349M1318.1 269.5V349M1324.6 269.5V349" stroke="#b9b9ad" stroke-width="0.7" fill="none"/>
<path d="M1140.5 269.4H1765.8M1140.5 309.4H1765.8" stroke="#333" stroke-width="0.8" fill="none"/>
<path d="M1140.5 349.2H1765.8" stroke="#8a8a8a" stroke-width="1.1" fill="none"/>
<text x="1136.4" y="292.4" class="clab" text-anchor="end">Dynamic Tree Cut</text>
<text x="1136.4" y="332.2" class="clab" text-anchor="end">Module colors</text>
<text x="1438.5" y="31.3" class="ttl" text-anchor="middle">Cluster Dendrogram</text>
</g>
<g id="panelD">
<text x="4.5" y="404.9" class="pl">D</text>
<defs><linearGradient id="sc" x1="0" y1="0" x2="0" y2="1"><stop offset="0" stop-color="#b8342b"/><stop offset="0.12" stop-color="#cf5a3e"/><stop offset="0.26" stop-color="#e59a62"/><stop offset="0.38" stop-color="#f6d58a"/><stop offset="0.5" stop-color="#fefcc0"/><stop offset="0.62" stop-color="#e6f2ee"/><stop offset="0.76" stop-color="#b4cde4"/><stop offset="0.88" stop-color="#7d9fcb"/><stop offset="1" stop-color="#5576b3"/></linearGradient></defs>
<rect x="42.1" y="375.8" width="13.1" height="66.6" fill="#0000ee"/>
<rect x="58.1" y="375.8" width="111.8" height="66.6" fill="#eec081"/>
<rect x="169.7" y="375.8" width="111.5" height="66.6" fill="#c9dde9"/>
<text x="113.9" y="405.6" class="hm" text-anchor="middle">0.39</text>
<text x="113.9" y="420.6" class="hm" text-anchor="middle">(0.059)</text>
<text x="225.4" y="405.6" class="hm" text-anchor="middle">−0.39</text>
<text x="225.4" y="420.6" class="hm" text-anchor="middle">(0.059)</text>
<text x="284.4" y="413.7" class="hml">MEblue</text>
<rect x="42.1" y="442.1" width="13.1" height="66.6" fill="#ffff3c"/>
<rect x="58.1" y="442.1" width="111.8" height="66.6" fill="#bb372c"/>
<rect x="169.7" y="442.1" width="111.5" height="66.6" fill="#5a78b4"/>
<text x="113.9" y="471.9" class="hm" text-anchor="middle">0.85</text>
<text x="113.9" y="486.9" class="hm" text-anchor="middle">(1.5e−07)</text>
<text x="225.4" y="471.9" class="hm" text-anchor="middle">−0.85</text>
<text x="225.4" y="486.9" class="hm" text-anchor="middle">(1.5e−07)</text>
<text x="284.4" y="479.9" class="hml">MEyellow</text>
<rect x="42.1" y="508.4" width="13.1" height="66.6" fill="#8cfc3c"/>
<rect x="58.1" y="508.4" width="111.8" height="66.6" fill="#c9553b"/>
<rect x="169.7" y="508.4" width="111.5" height="66.6" fill="#6f8fc2"/>
<text x="113.9" y="538.1" class="hm" text-anchor="middle">0.762</text>
<text x="113.9" y="553.1" class="hm" text-anchor="middle">(1.5e−05)</text>
<text x="225.4" y="538.1" class="hm" text-anchor="middle">−0.762</text>
<text x="225.4" y="553.1" class="hm" text-anchor="middle">(1.5e−05)</text>
<text x="284.4" y="546.2" class="hml">MEgreen</text>
<rect x="42.1" y="574.7" width="13.1" height="66.6" fill="#86dccb"/>
<rect x="58.1" y="574.7" width="111.8" height="66.6" fill="#f2f8dc"/>
<rect x="169.7" y="574.7" width="111.5" height="66.6" fill="#faecb0"/>
<text x="113.9" y="604.5" class="hm" text-anchor="middle">−0.131</text>
<text x="113.9" y="619.5" class="hm" text-anchor="middle">(0.54)</text>
<text x="225.4" y="604.5" class="hm" text-anchor="middle">0.131</text>
<text x="225.4" y="619.5" class="hm" text-anchor="middle">(0.54)</text>
<text x="284.4" y="612.6" class="hml">MEturquoise</text>
<rect x="42.1" y="641.0" width="13.1" height="66.6" fill="#8b2b2b"/>
<rect x="58.1" y="641.0" width="111.8" height="66.6" fill="#5676b4"/>
<rect x="169.7" y="641.0" width="111.5" height="66.6" fill="#b8322a"/>
<text x="113.9" y="670.8" class="hm" text-anchor="middle">−0.884</text>
<text x="113.9" y="685.8" class="hm" text-anchor="middle">(1e−08)</text>
<text x="225.4" y="670.8" class="hm" text-anchor="middle">0.884</text>
<text x="225.4" y="685.8" class="hm" text-anchor="middle">(1e−08)</text>
<text x="284.4" y="678.9" class="hml">MEbrown</text>
<rect x="42.1" y="707.3" width="13.1" height="66.6" fill="#bebebe"/>
<rect x="58.1" y="707.3" width="111.8" height="66.6" fill="#fdfac2"/>
<rect x="169.7" y="707.3" width="111.5" height="66.6" fill="#fdfac2"/>
<text x="113.9" y="737.1" class="hm" text-anchor="middle">−0.000945</text>
<text x="113.9" y="752.1" class="hm" text-anchor="middle">(1)</text>
<text x="225.4" y="737.1" class="hm" text-anchor="middle">0.000945</text>
<text x="225.4" y="752.1" class="hm" text-anchor="middle">(1)</text>
<text x="284.4" y="745.2" class="hml">MEgrey</text>
<text transform="translate(120.3 782.8) rotate(-45)" class="hml" text-anchor="end">RA</text>
<text transform="translate(231.8 782.8) rotate(-45)" class="hml" text-anchor="end">OA</text>
<text transform="translate(43.6 776.4) rotate(90)" class="hmb">Module</text>
<rect x="364.3" y="376" width="9.5" height="140" fill="url(#sc)"/>
<text x="377.4" y="411.2" class="hml">0.5</text>
<text x="377.4" y="451" class="hml">0</text>
<text x="377.4" y="490.9" class="hml">−0.5</text>
<text x="410" y="384.8" class="hmb">Module</text>
<rect x="410" y="390.1" width="18.6" height="19" fill="#0000ee"/>
<text x="432.7" y="404.2" class="hml">MEblue</text>
<rect x="410" y="408.9" width="18.6" height="19" fill="#ffff3c"/>
<text x="432.7" y="423.0" class="hml">MEyellow</text>
<rect x="410" y="427.7" width="18.6" height="19" fill="#8cfc3c"/>
<text x="432.7" y="441.8" class="hml">MEgreen</text>
<rect x="410" y="446.5" width="18.6" height="19" fill="#86dccb"/>
<text x="432.7" y="460.6" class="hml">MEturquoise</text>
<rect x="410" y="465.3" width="18.6" height="19" fill="#8b2b2b"/>
<text x="432.7" y="479.4" class="hml">MEbrown</text>
<rect x="410" y="484.1" width="18.6" height="19" fill="#bebebe"/>
<text x="432.7" y="498.2" class="hml">MEgrey</text>
</g>
<g id="panelE">
<text x="526.6" y="413.1" class="pl">E</text>
<text x="806" y="439.6" class="ttl2" text-anchor="middle">Interested genes for each module (yellow.RA)</text>
<path d="M581.2 739.0H1071.2M581.2 707.9H1071.2M581.2 676.8H1071.2M581.2 645.7H1071.2M581.2 614.6H1071.2M581.2 583.5H1071.2M581.2 552.4H1071.2M581.2 521.3H1071.2M581.2 490.2H1071.2M581.2 459.1H1071.2" stroke="#efefef" stroke-width="1" fill="none"/>
<path d="M581.2 459.1V739.0M630.2 459.1V739.0M679.2 459.1V739.0M728.2 459.1V739.0M777.2 459.1V739.0M826.2 459.1V739.0M875.2 459.1V739.0M924.2 459.1V739.0M973.2 459.1V739.0M1022.2 459.1V739.0M1071.2 459.1V739.0" stroke="#e3e3e3" stroke-width="1.1" fill="none"/>
<path d="M581.2 739.4H1071.2" stroke="#d9d9d9" stroke-width="1.2" fill="none"/>
<text x="572" y="742.9" class="etk" text-anchor="end">0</text>
<text x="572" y="711.8" class="etk" text-anchor="end">0.1</text>
<text x="572" y="680.7" class="etk" text-anchor="end">0.2</text>
<text x="572" y="649.6" class="etk" text-anchor="end">0.3</text>
<text x="572" y="618.5" class="etk" text-anchor="end">0.4</text>
<text x="572" y="587.4" class="etk" text-anchor="end">0.5</text>
<text x="572" y="556.3" class="etk" text-anchor="end">0.6</text>
<text x="572" y="525.2" class="etk" text-anchor="end">0.7</text>
<text x="572" y="494.1" class="etk" text-anchor="end">0.8</text>
<text x="572" y="463.0" class="etk" text-anchor="end">0.9</text>
<text x="581.2" y="755.8" class="etk" text-anchor="middle">0</text>
<text x="630.2" y="755.8" class="etk" text-anchor="middle">0.1</text>
<text x="679.2" y="755.8" class="etk" text-anchor="middle">0.2</text>
<text x="728.2" y="755.8" class="etk" text-anchor="middle">0.3</text>
<text x="777.2" y="755.8" class="etk" text-anchor="middle">0.4</text>
<text x="826.2" y="755.8" class="etk" text-anchor="middle">0.5</text>
<text x="875.2" y="755.8" class="etk" text-anchor="middle">0.6</text>
<text x="924.2" y="755.8" class="etk" text-anchor="middle">0.7</text>
<text x="973.2" y="755.8" class="etk" text-anchor="middle">0.8</text>
<text x="1022.2" y="755.8" class="etk" text-anchor="middle">0.9</text>
<text x="1071.2" y="755.8" class="etk" text-anchor="middle">1</text>
<text x="826.3" y="773.7" class="eax" text-anchor="middle">geneModuleMembership</text>
<text transform="translate(550.5 598) rotate(-90)" class="eax" text-anchor="middle">geneTraitCor</text>
<circle cx="633.1" cy="734.0" r="3.4" fill="#ebb92d"/>
<circle cx="720.6" cy="729.6" r="3.4" fill="#ebb92d"/>
<circle cx="735.1" cy="728.1" r="3.4" fill="#ebb92d"/>
<circle cx="752.2" cy="721.6" r="3.4" fill="#ebb92d"/>
<circle cx="746.8" cy="700.5" r="3.4" fill="#ebb92d"/>
<circle cx="724.6" cy="684.6" r="3.4" fill="#ebb92d"/>
<circle cx="731.5" cy="686.0" r="3.4" fill="#ebb92d"/>
<circle cx="738.4" cy="658.8" r="3.4" fill="#ebb92d"/>
<circle cx="743.5" cy="654.1" r="3.4" fill="#ebb92d"/>
<circle cx="755.1" cy="660.6" r="3.4" fill="#ebb92d"/>
<circle cx="763.1" cy="656.2" r="3.4" fill="#ebb92d"/>
<circle cx="770.7" cy="668.6" r="3.4" fill="#ebb92d"/>
<circle cx="777.3" cy="637.0" r="3.4" fill="#ebb92d"/>
<circle cx="781.6" cy="651.5" r="3.4" fill="#ebb92d"/>
<circle cx="787.8" cy="662.1" r="3.4" fill="#ebb92d"/>
<circle cx="788.5" cy="663.9" r="3.4" fill="#ebb92d"/>
<circle cx="789.6" cy="618.8" r="3.4" fill="#ebb92d"/>
<circle cx="790.3" cy="575.6" r="3.4" fill="#ebb92d"/>
<circle cx="797.9" cy="639.5" r="3.4" fill="#ebb92d"/>
<circle cx="801.6" cy="654.4" r="3.4" fill="#ebb92d"/>
<circle cx="806.7" cy="628.6" r="3.4" fill="#ebb92d"/>
<circle cx="806.7" cy="598.1" r="3.4" fill="#ebb92d"/>
<circle cx="807.8" cy="576.4" r="3.4" fill="#ebb92d"/>
<circle cx="811.7" cy="569.8" r="3.4" fill="#ebb92d"/>
<circle cx="813.9" cy="658.4" r="3.4" fill="#ebb92d"/>
<circle cx="814.7" cy="620.7" r="3.4" fill="#ebb92d"/>
<circle cx="815.0" cy="597.1" r="3.4" fill="#ebb92d"/>
<circle cx="817.9" cy="667.1" r="3.4" fill="#ebb92d"/>
<circle cx="821.9" cy="597.1" r="3.4" fill="#ebb92d"/>
<circle cx="823.7" cy="619.9" r="3.4" fill="#ebb92d"/>
<circle cx="828.4" cy="635.2" r="3.4" fill="#ebb92d"/>
<circle cx="829.2" cy="573.5" r="3.4" fill="#ebb92d"/>
<circle cx="831.0" cy="622.1" r="3.4" fill="#ebb92d"/>
<circle cx="733.3" cy="607.2" r="3.4" fill="#ebb92d"/>
<circle cx="834.3" cy="615.2" r="3.4" fill="#ebb92d"/>
<circle cx="835.0" cy="633.7" r="3.4" fill="#ebb92d"/>
<circle cx="828.6" cy="573.5" r="3.4" fill="#ebb92d"/>
<circle cx="827.9" cy="635.2" r="3.4" fill="#ebb92d"/>
<circle cx="830.8" cy="622.1" r="3.4" fill="#ebb92d"/>
<circle cx="834.8" cy="615.2" r="3.4" fill="#ebb92d"/>
<circle cx="835.9" cy="633.7" r="3.4" fill="#ebb92d"/>
<circle cx="843.9" cy="608.0" r="3.4" fill="#ebb92d"/>
<circle cx="843.9" cy="625.4" r="3.4" fill="#ebb92d"/>
<circle cx="844.2" cy="630.5" r="3.4" fill="#ebb92d"/>
<circle cx="851.1" cy="578.2" r="3.4" fill="#ebb92d"/>
<circle cx="858.0" cy="576.0" r="3.4" fill="#ebb92d"/>
<circle cx="858.0" cy="553.5" r="3.4" fill="#ebb92d"/>
<circle cx="864.9" cy="562.2" r="3.4" fill="#ebb92d"/>
<circle cx="867.5" cy="582.9" r="3.4" fill="#ebb92d"/>
<circle cx="875.1" cy="602.9" r="3.4" fill="#ebb92d"/>
<circle cx="876.9" cy="530.6" r="3.4" fill="#ebb92d"/>
<circle cx="879.1" cy="526.3" r="3.4" fill="#ebb92d"/>
<circle cx="878.7" cy="576.0" r="3.4" fill="#ebb92d"/>
<circle cx="879.8" cy="588.7" r="3.4" fill="#ebb92d"/>
<circle cx="885.6" cy="539.7" r="3.4" fill="#ebb92d"/>
<circle cx="889.6" cy="558.6" r="3.4" fill="#ebb92d"/>
<circle cx="903.8" cy="583.3" r="3.4" fill="#ebb92d"/>
<circle cx="905.6" cy="531.7" r="3.4" fill="#ebb92d"/>
<circle cx="909.6" cy="600.7" r="3.4" fill="#ebb92d"/>
<circle cx="917.6" cy="556.4" r="3.4" fill="#ebb92d"/>
<circle cx="926.7" cy="533.2" r="3.4" fill="#ebb92d"/>
<circle cx="928.8" cy="556.4" r="3.4" fill="#ebb92d"/>
<circle cx="929.6" cy="534.6" r="3.4" fill="#ebb92d"/>
<circle cx="928.5" cy="526.3" r="3.4" fill="#ebb92d"/>
<circle cx="930.7" cy="522.6" r="3.4" fill="#ebb92d"/>
<circle cx="930.7" cy="547.3" r="3.4" fill="#ebb92d"/>
<circle cx="928.8" cy="586.2" r="3.4" fill="#ebb92d"/>
<circle cx="932.5" cy="588.0" r="3.4" fill="#ebb92d"/>
<circle cx="933.2" cy="509.2" r="3.4" fill="#ebb92d"/>
<circle cx="935.7" cy="521.5" r="3.4" fill="#ebb92d"/>
<circle cx="939.7" cy="530.6" r="3.4" fill="#ebb92d"/>
<circle cx="942.3" cy="539.7" r="3.4" fill="#ebb92d"/>
<circle cx="945.9" cy="566.6" r="3.4" fill="#ebb92d"/>
<circle cx="946.3" cy="509.2" r="3.4" fill="#ebb92d"/>
<circle cx="948.1" cy="524.4" r="3.4" fill="#ebb92d"/>
<circle cx="951.4" cy="502.7" r="3.4" fill="#ebb92d"/>
<circle cx="954.3" cy="527.0" r="3.4" fill="#ebb92d"/>
<circle cx="956.1" cy="573.1" r="3.4" fill="#ebb92d"/>
<circle cx="961.2" cy="503.4" r="3.4" fill="#ebb92d"/>
<circle cx="964.1" cy="524.1" r="3.4" fill="#ebb92d"/>
<circle cx="967.7" cy="526.6" r="3.4" fill="#ebb92d"/>
<circle cx="971.3" cy="504.8" r="3.4" fill="#ebb92d"/>
<circle cx="972.1" cy="517.9" r="3.4" fill="#ebb92d"/>
<circle cx="973.5" cy="520.1" r="3.4" fill="#ebb92d"/>
<circle cx="975.3" cy="539.3" r="3.4" fill="#ebb92d"/>
<circle cx="980.0" cy="508.8" r="3.4" fill="#ebb92d"/>
<circle cx="981.9" cy="497.6" r="3.4" fill="#ebb92d"/>
<circle cx="989.5" cy="501.6" r="3.4" fill="#ebb92d"/>
<circle cx="990.2" cy="513.9" r="3.4" fill="#ebb92d"/>
<circle cx="991.3" cy="521.9" r="3.4" fill="#ebb92d"/>
<circle cx="991.7" cy="529.2" r="3.4" fill="#ebb92d"/>
<circle cx="991.7" cy="536.4" r="3.4" fill="#ebb92d"/>
<circle cx="993.8" cy="522.6" r="3.4" fill="#ebb92d"/>
<circle cx="993.8" cy="536.1" r="3.4" fill="#ebb92d"/>
<circle cx="998.6" cy="531.0" r="3.4" fill="#ebb92d"/>
<circle cx="998.6" cy="497.9" r="3.4" fill="#ebb92d"/>
<circle cx="1004.7" cy="504.5" r="3.4" fill="#ebb92d"/>
<circle cx="1011.3" cy="518.3" r="3.4" fill="#ebb92d"/>
<circle cx="1013.5" cy="500.1" r="3.4" fill="#ebb92d"/>
<circle cx="1016.7" cy="501.9" r="3.4" fill="#ebb92d"/>
<circle cx="1017.1" cy="510.3" r="3.4" fill="#ebb92d"/>
<circle cx="1019.6" cy="511.7" r="3.4" fill="#ebb92d"/>
<circle cx="1032.3" cy="491.4" r="3.4" fill="#ebb92d"/>
<circle cx="1034.2" cy="480.1" r="3.4" fill="#ebb92d"/>
<path d="M633.1 735.0L1035.5 483.0" stroke="#111" stroke-width="1.9" stroke-linecap="round" stroke-dasharray="0 3.7" fill="none"/>
</g>
<g id="panelF">
<text x="1064.4" y="413.1" class="pl">F</text>
<text x="1399.6" y="444.6" class="ttl2" text-anchor="middle">Interested genes for each module (green.RA)</text>
<path d="M1173.6 739.8H1663.6M1173.6 712.2H1663.6M1173.6 684.6H1663.6M1173.6 657.0H1663.6M1173.6 629.4H1663.6M1173.6 601.8H1663.6M1173.6 574.2H1663.6M1173.6 546.6H1663.6M1173.6 519.0H1663.6M1173.6 491.4H1663.6M1173.6 463.8H1663.6" stroke="#efefef" stroke-width="1" fill="none"/>
<path d="M1173.6 463.8V739.8M1243.6 463.8V739.8M1313.6 463.8V739.8M1383.6 463.8V739.8M1453.6 463.8V739.8M1523.6 463.8V739.8M1593.6 463.8V739.8M1663.6 463.8V739.8" stroke="#e3e3e3" stroke-width="1.1" fill="none"/>
<path d="M1173.6 740.1999999999999H1663.6" stroke="#d9d9d9" stroke-width="1.2" fill="none"/>
<text x="1164.3" y="743.1" class="ftk" text-anchor="end">0</text>
<text x="1164.3" y="715.5" class="ftk" text-anchor="end">0.1</text>
<text x="1164.3" y="687.9" class="ftk" text-anchor="end">0.2</text>
<text x="1164.3" y="660.3" class="ftk" text-anchor="end">0.3</text>
<text x="1164.3" y="632.7" class="ftk" text-anchor="end">0.4</text>
<text x="1164.3" y="605.1" class="ftk" text-anchor="end">0.5</text>
<text x="1164.3" y="577.5" class="ftk" text-anchor="end">0.6</text>
<text x="1164.3" y="549.9" class="ftk" text-anchor="end">0.7</text>
<text x="1164.3" y="522.3" class="ftk" text-anchor="end">0.8</text>
<text x="1164.3" y="494.7" class="ftk" text-anchor="end">0.9</text>
<text x="1164.3" y="467.1" class="ftk" text-anchor="end">1</text>
<text x="1173.6" y="756.9" class="ftk" text-anchor="middle">0.2</text>
<text x="1243.6" y="756.9" class="ftk" text-anchor="middle">0.3</text>
<text x="1313.6" y="756.9" class="ftk" text-anchor="middle">0.4</text>
<text x="1383.6" y="756.9" class="ftk" text-anchor="middle">0.5</text>
<text x="1453.6" y="756.9" class="ftk" text-anchor="middle">0.6</text>
<text x="1523.6" y="756.9" class="ftk" text-anchor="middle">0.7</text>
<text x="1593.6" y="756.9" class="ftk" text-anchor="middle">0.8</text>
<text x="1663.6" y="756.9" class="ftk" text-anchor="middle">0.9</text>
<text x="1418.2" y="773.9" class="fax" text-anchor="middle">geneModuleMembership</text>
<text transform="translate(1142.4 601.5) rotate(-90)" class="fax" text-anchor="middle">geneTraitCor</text>
<circle cx="1213.2" cy="646.8" r="3.4" fill="#7dab52"/>
<circle cx="1215.7" cy="676.1" r="3.4" fill="#7dab52"/>
<circle cx="1231.4" cy="689.6" r="3.4" fill="#7dab52"/>
<circle cx="1242.5" cy="598.2" r="3.4" fill="#7dab52"/>
<circle cx="1244.6" cy="652.1" r="3.4" fill="#7dab52"/>
<circle cx="1251.1" cy="642.9" r="3.4" fill="#7dab52"/>
<circle cx="1275.7" cy="719.3" r="3.4" fill="#7dab52"/>
<circle cx="1286.8" cy="560.4" r="3.4" fill="#7dab52"/>
<circle cx="1288.9" cy="651.1" r="3.4" fill="#7dab52"/>
<circle cx="1288.9" cy="658.6" r="3.4" fill="#7dab52"/>
<circle cx="1295.7" cy="685.7" r="3.4" fill="#7dab52"/>
<circle cx="1296.4" cy="623.6" r="3.4" fill="#7dab52"/>
<circle cx="1298.2" cy="707.1" r="3.4" fill="#7dab52"/>
<circle cx="1310.7" cy="670.4" r="3.4" fill="#7dab52"/>
<circle cx="1328.2" cy="576.1" r="3.4" fill="#7dab52"/>
<circle cx="1329.6" cy="558.9" r="3.4" fill="#7dab52"/>
<circle cx="1335.0" cy="646.4" r="3.4" fill="#7dab52"/>
<circle cx="1338.9" cy="580.4" r="3.4" fill="#7dab52"/>
<circle cx="1342.9" cy="640.0" r="3.4" fill="#7dab52"/>
<circle cx="1345.0" cy="632.9" r="3.4" fill="#7dab52"/>
<circle cx="1362.1" cy="665.7" r="3.4" fill="#7dab52"/>
<circle cx="1364.3" cy="664.3" r="3.4" fill="#7dab52"/>
<circle cx="1368.6" cy="586.4" r="3.4" fill="#7dab52"/>
<circle cx="1371.1" cy="595.0" r="3.4" fill="#7dab52"/>
<circle cx="1374.6" cy="583.9" r="3.4" fill="#7dab52"/>
<circle cx="1380.4" cy="547.1" r="3.4" fill="#7dab52"/>
<circle cx="1387.1" cy="675.4" r="3.4" fill="#7dab52"/>
<circle cx="1389.6" cy="634.6" r="3.4" fill="#7dab52"/>
<circle cx="1393.9" cy="536.1" r="3.4" fill="#7dab52"/>
<circle cx="1397.5" cy="631.1" r="3.4" fill="#7dab52"/>
<circle cx="1398.6" cy="606.4" r="3.4" fill="#7dab52"/>
<circle cx="1401.8" cy="533.6" r="3.4" fill="#7dab52"/>
<circle cx="1401.8" cy="568.2" r="3.4" fill="#7dab52"/>
<circle cx="1402.5" cy="613.9" r="3.4" fill="#7dab52"/>
<circle cx="1403.2" cy="588.2" r="3.4" fill="#7dab52"/>
<circle cx="1403.6" cy="601.8" r="3.4" fill="#7dab52"/>
<circle cx="1406.4" cy="615.0" r="3.4" fill="#7dab52"/>
<circle cx="1408.9" cy="526.1" r="3.4" fill="#7dab52"/>
<circle cx="1414.6" cy="619.3" r="3.4" fill="#7dab52"/>
<circle cx="1418.2" cy="612.5" r="3.4" fill="#7dab52"/>
<circle cx="1421.8" cy="627.9" r="3.4" fill="#7dab52"/>
<circle cx="1415.0" cy="619.3" r="3.4" fill="#7dab52"/>
<circle cx="1418.6" cy="612.5" r="3.4" fill="#7dab52"/>
<circle cx="1421.8" cy="627.9" r="3.4" fill="#7dab52"/>
<circle cx="1431.1" cy="608.2" r="3.4" fill="#7dab52"/>
<circle cx="1432.1" cy="588.6" r="3.4" fill="#7dab52"/>
<circle cx="1433.9" cy="612.5" r="3.4" fill="#7dab52"/>
<circle cx="1444.3" cy="605.0" r="3.4" fill="#7dab52"/>
<circle cx="1444.6" cy="616.4" r="3.4" fill="#7dab52"/>
<circle cx="1446.1" cy="645.7" r="3.4" fill="#7dab52"/>
<circle cx="1451.8" cy="568.2" r="3.4" fill="#7dab52"/>
<circle cx="1458.6" cy="632.5" r="3.4" fill="#7dab52"/>
<circle cx="1458.9" cy="538.9" r="3.4" fill="#7dab52"/>
<circle cx="1459.6" cy="588.9" r="3.4" fill="#7dab52"/>
<circle cx="1463.2" cy="522.5" r="3.4" fill="#7dab52"/>
<circle cx="1465.4" cy="570.7" r="3.4" fill="#7dab52"/>
<circle cx="1467.9" cy="605.0" r="3.4" fill="#7dab52"/>
<circle cx="1471.1" cy="543.2" r="3.4" fill="#7dab52"/>
<circle cx="1473.9" cy="572.9" r="3.4" fill="#7dab52"/>
<circle cx="1474.6" cy="623.2" r="3.4" fill="#7dab52"/>
<circle cx="1476.8" cy="541.8" r="3.4" fill="#7dab52"/>
<circle cx="1484.6" cy="568.2" r="3.4" fill="#7dab52"/>
<circle cx="1487.9" cy="550.4" r="3.4" fill="#7dab52"/>
<circle cx="1491.1" cy="564.3" r="3.4" fill="#7dab52"/>
<circle cx="1500.4" cy="533.9" r="3.4" fill="#7dab52"/>
<circle cx="1502.1" cy="593.9" r="3.4" fill="#7dab52"/>
<circle cx="1504.3" cy="563.9" r="3.4" fill="#7dab52"/>
<circle cx="1505.4" cy="559.6" r="3.4" fill="#7dab52"/>
<circle cx="1509.3" cy="548.9" r="3.4" fill="#7dab52"/>
<circle cx="1512.1" cy="599.3" r="3.4" fill="#7dab52"/>
<circle cx="1516.1" cy="574.6" r="3.4" fill="#7dab52"/>
<circle cx="1517.1" cy="572.1" r="3.4" fill="#7dab52"/>
<circle cx="1517.5" cy="514.6" r="3.4" fill="#7dab52"/>
<circle cx="1530.4" cy="552.1" r="3.4" fill="#7dab52"/>
<circle cx="1531.8" cy="560.4" r="3.4" fill="#7dab52"/>
<circle cx="1539.3" cy="572.5" r="3.4" fill="#7dab52"/>
<circle cx="1540.0" cy="543.2" r="3.4" fill="#7dab52"/>
<circle cx="1542.5" cy="522.1" r="3.4" fill="#7dab52"/>
<circle cx="1552.5" cy="508.2" r="3.4" fill="#7dab52"/>
<circle cx="1552.5" cy="531.4" r="3.4" fill="#7dab52"/>
<circle cx="1557.9" cy="507.1" r="3.4" fill="#7dab52"/>
<circle cx="1580.4" cy="521.1" r="3.4" fill="#7dab52"/>
<circle cx="1584.3" cy="527.5" r="3.4" fill="#7dab52"/>
<circle cx="1585.7" cy="533.9" r="3.4" fill="#7dab52"/>
<circle cx="1587.1" cy="531.1" r="3.4" fill="#7dab52"/>
<circle cx="1600.0" cy="506.8" r="3.4" fill="#7dab52"/>
<circle cx="1604.6" cy="508.6" r="3.4" fill="#7dab52"/>
<circle cx="1621.1" cy="527.9" r="3.4" fill="#7dab52"/>
<circle cx="1622.5" cy="513.9" r="3.4" fill="#7dab52"/>
<circle cx="1622.1" cy="529.3" r="3.4" fill="#7dab52"/>
<circle cx="1625.4" cy="538.6" r="3.4" fill="#7dab52"/>
<circle cx="1625.7" cy="501.4" r="3.4" fill="#7dab52"/>
<circle cx="1645.7" cy="522.5" r="3.4" fill="#7dab52"/>
<circle cx="1647.1" cy="520.0" r="3.4" fill="#7dab52"/>
<circle cx="1648.9" cy="500.7" r="3.4" fill="#7dab52"/>
<circle cx="1657.1" cy="507.9" r="3.4" fill="#7dab52"/>
<path d="M1213.2 670.7L1657.1 504.3" stroke="#111" stroke-width="1.9" stroke-linecap="round" stroke-dasharray="0 3.7" fill="none"/>
</g>
</svg>
</body></html>
